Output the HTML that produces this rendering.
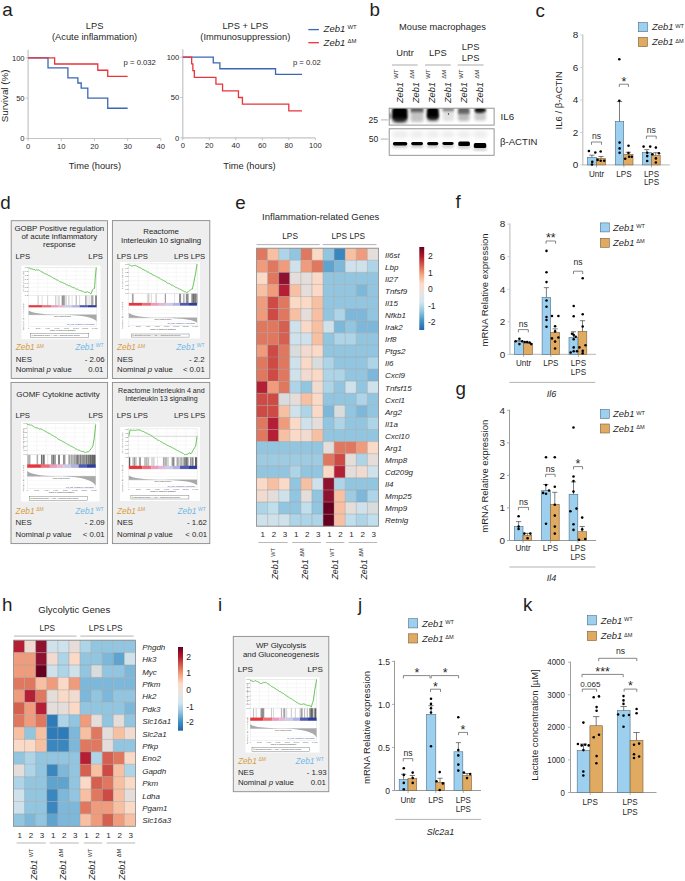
<!DOCTYPE html>
<html><head><meta charset="utf-8"><style>
html,body{margin:0;padding:0;background:#fff;}
svg{display:block;font-family:"Liberation Sans", sans-serif;}

</style></head><body>
<svg width="685" height="881" viewBox="0 0 685 881" font-family='"Liberation Sans", sans-serif' fill="#1f1f1f">
<rect x="0" y="0" width="685" height="881" fill="#ffffff"/>
<text x="2.20" y="16.30" font-size="18.8">a</text>
<line x1="28.10" y1="138.50" x2="28.10" y2="49.80" stroke="#c4c4c4" stroke-width="1.2" />
<line x1="27.50" y1="138.50" x2="160.82" y2="138.50" stroke="#c4c4c4" stroke-width="1.2" />
<line x1="25.60" y1="138.50" x2="28.10" y2="138.50" stroke="#b8b8b8" stroke-width="0.8" />
<text x="24.60" y="141.20" font-size="7.6" text-anchor="end">0</text>
<line x1="25.60" y1="98.15" x2="28.10" y2="98.15" stroke="#b8b8b8" stroke-width="0.8" />
<text x="24.60" y="100.85" font-size="7.6" text-anchor="end">50</text>
<line x1="25.60" y1="57.80" x2="28.10" y2="57.80" stroke="#b8b8b8" stroke-width="0.8" />
<text x="24.60" y="60.50" font-size="7.6" text-anchor="end">100</text>
<line x1="28.10" y1="138.50" x2="28.10" y2="141.00" stroke="#b8b8b8" stroke-width="0.8" />
<text x="28.10" y="148.70" font-size="7.6" text-anchor="middle">0</text>
<line x1="61.28" y1="138.50" x2="61.28" y2="141.00" stroke="#b8b8b8" stroke-width="0.8" />
<text x="61.28" y="148.70" font-size="7.6" text-anchor="middle">10</text>
<line x1="94.46" y1="138.50" x2="94.46" y2="141.00" stroke="#b8b8b8" stroke-width="0.8" />
<text x="94.46" y="148.70" font-size="7.6" text-anchor="middle">20</text>
<line x1="127.64" y1="138.50" x2="127.64" y2="141.00" stroke="#b8b8b8" stroke-width="0.8" />
<text x="127.64" y="148.70" font-size="7.6" text-anchor="middle">30</text>
<line x1="160.82" y1="138.50" x2="160.82" y2="141.00" stroke="#b8b8b8" stroke-width="0.8" />
<text x="160.82" y="148.70" font-size="7.6" text-anchor="middle">40</text>
<text x="94.60" y="29.20" font-size="9.3" text-anchor="middle">LPS</text>
<text x="94.60" y="40.40" font-size="9.3" text-anchor="middle">(Acute inflammation)</text>
<text x="94.96" y="169.20" font-size="9.3" text-anchor="middle">Time (hours)</text>
<path d="M28.10,57.80H48.01V57.80H48.01V67.89H67.92V67.89H67.92V77.97H77.87V77.97H77.87V83.02H81.19V83.02H81.19V88.06H87.82V88.06H87.82V98.15H107.73V98.15H107.73V108.24H127.64V108.24H127.64V108.24" stroke="#3a68b4" stroke-width="1.3" fill="none" />
<path d="M28.10,57.80H54.64V57.80H54.64V64.01H97.78V64.01H97.78V70.23H107.73V70.23H107.73V76.44H127.64V76.44H127.64V76.44" stroke="#e8343c" stroke-width="1.3" fill="none" />
<text x="123.60" y="65.30" font-size="7.7">p = 0.032</text>
<line x1="182.80" y1="137.80" x2="182.80" y2="49.20" stroke="#c4c4c4" stroke-width="1.2" />
<line x1="182.20" y1="137.80" x2="315.30" y2="137.80" stroke="#c4c4c4" stroke-width="1.2" />
<line x1="180.30" y1="137.80" x2="182.80" y2="137.80" stroke="#b8b8b8" stroke-width="0.8" />
<text x="179.30" y="140.50" font-size="7.6" text-anchor="end">0</text>
<line x1="180.30" y1="97.50" x2="182.80" y2="97.50" stroke="#b8b8b8" stroke-width="0.8" />
<text x="179.30" y="100.20" font-size="7.6" text-anchor="end">50</text>
<line x1="180.30" y1="57.20" x2="182.80" y2="57.20" stroke="#b8b8b8" stroke-width="0.8" />
<text x="179.30" y="59.90" font-size="7.6" text-anchor="end">100</text>
<line x1="182.80" y1="137.80" x2="182.80" y2="140.30" stroke="#b8b8b8" stroke-width="0.8" />
<text x="182.80" y="148.00" font-size="7.6" text-anchor="middle">0</text>
<line x1="209.30" y1="137.80" x2="209.30" y2="140.30" stroke="#b8b8b8" stroke-width="0.8" />
<text x="209.30" y="148.00" font-size="7.6" text-anchor="middle">20</text>
<line x1="235.80" y1="137.80" x2="235.80" y2="140.30" stroke="#b8b8b8" stroke-width="0.8" />
<text x="235.80" y="148.00" font-size="7.6" text-anchor="middle">40</text>
<line x1="262.30" y1="137.80" x2="262.30" y2="140.30" stroke="#b8b8b8" stroke-width="0.8" />
<text x="262.30" y="148.00" font-size="7.6" text-anchor="middle">60</text>
<line x1="288.80" y1="137.80" x2="288.80" y2="140.30" stroke="#b8b8b8" stroke-width="0.8" />
<text x="288.80" y="148.00" font-size="7.6" text-anchor="middle">80</text>
<line x1="315.30" y1="137.80" x2="315.30" y2="140.30" stroke="#b8b8b8" stroke-width="0.8" />
<text x="315.30" y="148.00" font-size="7.6" text-anchor="middle">100</text>
<text x="245.30" y="29.20" font-size="9.3" text-anchor="middle">LPS + LPS</text>
<text x="245.30" y="40.40" font-size="9.3" text-anchor="middle">(Immunosuppression)</text>
<text x="249.55" y="169.20" font-size="9.3" text-anchor="middle">Time (hours)</text>
<path d="M182.80,57.20H213.28V57.20H213.28V62.92H219.90V62.92H219.90V68.73H275.55V68.73H275.55V74.45H302.05V74.45H302.05V74.45" stroke="#3a68b4" stroke-width="1.3" fill="none" />
<path d="M182.80,57.20H191.68V57.20H191.68V63.89H192.87V63.89H192.87V70.66H194.33V70.66H194.33V77.35H215.93V77.35H215.93V84.04H222.55V84.04H222.55V90.81H238.45V90.81H238.45V97.50H242.43V97.50H242.43V104.19H288.80V104.19H288.80V110.96H302.05V110.96H302.05V110.96" stroke="#e8343c" stroke-width="1.3" fill="none" />
<text x="292.90" y="65.00" font-size="7.7">p = 0.02</text>
<text x="8.10" y="95.90" font-size="9.8" text-anchor="middle" transform="rotate(-90 8.10 95.90)">Survival (%)</text>
<line x1="308.30" y1="29.60" x2="318.90" y2="29.60" stroke="#3a68b4" stroke-width="1.3" />
<line x1="308.30" y1="42.70" x2="318.90" y2="42.70" stroke="#e8343c" stroke-width="1.3" />
<text x="323.60" y="32.40" font-size="9.5"><tspan font-style="italic">Zeb1</tspan><tspan dx="2.20" dy="-3.60" font-size="6.00">WT</tspan></text>
<text x="323.60" y="46.30" font-size="9.5"><tspan font-style="italic">Zeb1</tspan><tspan dx="2.20" dy="-3.60" font-size="6.00">&#916;M</tspan></text>
<text x="369.50" y="16.30" font-size="18.8">b</text>
<text x="442.50" y="30.20" font-size="9.3" text-anchor="middle">Mouse macrophages</text>
<text x="405.00" y="55.50" font-size="9.3" text-anchor="middle">Untr</text>
<text x="437.90" y="55.50" font-size="9.3" text-anchor="middle">LPS</text>
<text x="470.60" y="49.90" font-size="9.3" text-anchor="middle">LPS</text>
<text x="470.60" y="60.80" font-size="9.3" text-anchor="middle">LPS</text>
<line x1="392.00" y1="65.00" x2="417.70" y2="65.00" stroke="#aaaaaa" stroke-width="1.0" />
<line x1="425.00" y1="65.00" x2="450.80" y2="65.00" stroke="#aaaaaa" stroke-width="1.0" />
<line x1="457.70" y1="65.00" x2="483.50" y2="65.00" stroke="#aaaaaa" stroke-width="1.0" />
<text x="402.70" y="103.00" font-size="9.2" transform="rotate(-90 402.70 103.00)"><tspan font-style="italic">Zeb1</tspan><tspan dx="3.40" dy="-4.40" font-size="6.00">WT</tspan></text>
<text x="418.60" y="103.00" font-size="9.2" transform="rotate(-90 418.60 103.00)"><tspan font-style="italic">Zeb1</tspan><tspan dx="3.40" dy="-4.40" font-size="6.00">&#916;M</tspan></text>
<text x="434.60" y="103.00" font-size="9.2" transform="rotate(-90 434.60 103.00)"><tspan font-style="italic">Zeb1</tspan><tspan dx="3.40" dy="-4.40" font-size="6.00">WT</tspan></text>
<text x="450.80" y="103.00" font-size="9.2" transform="rotate(-90 450.80 103.00)"><tspan font-style="italic">Zeb1</tspan><tspan dx="3.40" dy="-4.40" font-size="6.00">&#916;M</tspan></text>
<text x="467.30" y="103.00" font-size="9.2" transform="rotate(-90 467.30 103.00)"><tspan font-style="italic">Zeb1</tspan><tspan dx="3.40" dy="-4.40" font-size="6.00">WT</tspan></text>
<text x="483.20" y="103.00" font-size="9.2" transform="rotate(-90 483.20 103.00)"><tspan font-style="italic">Zeb1</tspan><tspan dx="3.40" dy="-4.40" font-size="6.00">&#916;M</tspan></text>
<defs><filter id="bl1" x="-50%" y="-50%" width="200%" height="200%"><feGaussianBlur stdDeviation="1.8"/></filter><filter id="bl2" x="-50%" y="-50%" width="200%" height="200%"><feGaussianBlur stdDeviation="1.0"/></filter><filter id="bl3" x="-50%" y="-50%" width="200%" height="200%"><feGaussianBlur stdDeviation="2.2"/></filter><filter id="bl4" x="-50%" y="-50%" width="200%" height="200%"><feGaussianBlur stdDeviation="0.75"/></filter><clipPath id="cb1"><rect x="389.2" y="108.2" width="104.9" height="16.9"/></clipPath><clipPath id="cb2"><rect x="389.2" y="128.8" width="104.9" height="26.5"/></clipPath></defs>
<rect x="389.20" y="108.20" width="104.90" height="16.90" fill="#ffffff" />
<g clip-path="url(#cb1)">
<rect x="392.0" y="107.0" width="15.6" height="13.0" rx="3.5" fill="#000" opacity="1.0" filter="url(#bl2)"/>
<rect x="393.5" y="114.0" width="12.5" height="8.0" rx="4.0" fill="#000" opacity="0.9" filter="url(#bl1)"/>
<rect x="392.0" y="118.0" width="15.5" height="5.0" rx="2.0" fill="#444" opacity="0.5" filter="url(#bl1)"/>
<rect x="388.0" y="113.0" width="2.5" height="6.0" rx="1.0" fill="#000" opacity="0.7" filter="url(#bl2)"/>
<rect x="410.5" y="107.5" width="13.0" height="5.0" rx="1.0" fill="#222" opacity="0.75" filter="url(#bl2)"/>
<rect x="410.5" y="111.0" width="13.0" height="11.0" rx="2.0" fill="#888" opacity="0.5" filter="url(#bl1)"/>
<rect x="426.8" y="107.0" width="12.0" height="12.0" rx="3.5" fill="#000" opacity="1.0" filter="url(#bl2)"/>
<rect x="428.0" y="113.0" width="10.0" height="7.0" rx="3.5" fill="#000" opacity="0.85" filter="url(#bl1)"/>
<rect x="426.8" y="117.0" width="12.0" height="5.0" rx="2.0" fill="#555" opacity="0.4" filter="url(#bl1)"/>
<rect x="442.5" y="107.5" width="11.5" height="4.0" rx="1.0" fill="#333" opacity="0.6" filter="url(#bl2)"/>
<rect x="442.5" y="110.0" width="11.5" height="11.0" rx="2.0" fill="#aaa" opacity="0.35" filter="url(#bl1)"/>
<rect x="458.0" y="107.5" width="11.5" height="6.5" rx="1.5" fill="#222" opacity="0.72" filter="url(#bl2)"/>
<rect x="458.0" y="111.0" width="11.5" height="10.0" rx="2.0" fill="#777" opacity="0.5" filter="url(#bl1)"/>
<rect x="474.5" y="107.5" width="11.5" height="5.0" rx="2.0" fill="#000" opacity="0.9" filter="url(#bl2)"/>
<rect x="476.0" y="109.0" width="7.0" height="4.0" rx="1.5" fill="#000" opacity="0.8" filter="url(#bl2)"/>
<rect x="474.5" y="111.5" width="11.5" height="9.0" rx="2.0" fill="#888" opacity="0.45" filter="url(#bl1)"/>
<circle cx="448.5" cy="114.0" r="0.7" fill="#222"/>
</g>
<rect x="389.20" y="108.20" width="104.90" height="16.90" fill="none" stroke="#8a8a8a" stroke-width="0.9" />
<rect x="389.20" y="128.80" width="104.90" height="26.50" fill="#ffffff" />
<g clip-path="url(#cb2)">
<rect x="392.1" y="131.0" width="16.0" height="7.0" rx="2.0" fill="#000" opacity="0.07" filter="url(#bl3)"/>
<rect x="392.90000000000003" y="142.1" width="14.4" height="3.3000000000000003" rx="1.6" fill="#000" opacity="1.0" filter="url(#bl4)"/>
<rect x="392.6" y="144.6" width="15.0" height="3.0" rx="1.0" fill="#000" opacity="0.25" filter="url(#bl1)"/>
<rect x="410.4" y="131.0" width="13.400000000000034" height="7.0" rx="2.0" fill="#000" opacity="0.07" filter="url(#bl3)"/>
<rect x="411.2" y="141.89999999999998" width="11.800000000000034" height="3.3000000000000003" rx="1.6" fill="#000" opacity="1.0" filter="url(#bl4)"/>
<rect x="410.9" y="144.39999999999998" width="12.400000000000034" height="3.0" rx="1.0" fill="#000" opacity="0.25" filter="url(#bl1)"/>
<rect x="426.4" y="131.0" width="12.700000000000045" height="7.0" rx="2.0" fill="#000" opacity="0.07" filter="url(#bl3)"/>
<rect x="427.2" y="141.89999999999998" width="11.100000000000046" height="3.3000000000000003" rx="1.6" fill="#000" opacity="1.0" filter="url(#bl4)"/>
<rect x="426.9" y="144.39999999999998" width="11.700000000000045" height="3.0" rx="1.0" fill="#000" opacity="0.25" filter="url(#bl1)"/>
<rect x="441.6" y="131.0" width="12.799999999999955" height="7.0" rx="2.0" fill="#000" opacity="0.07" filter="url(#bl3)"/>
<rect x="442.40000000000003" y="142.1" width="11.199999999999955" height="2.9" rx="1.6" fill="#000" opacity="1.0" filter="url(#bl4)"/>
<rect x="442.1" y="144.20000000000002" width="11.799999999999955" height="3.0" rx="1.0" fill="#000" opacity="0.25" filter="url(#bl1)"/>
<rect x="457.5" y="131.0" width="13.199999999999989" height="7.0" rx="2.0" fill="#000" opacity="0.07" filter="url(#bl3)"/>
<rect x="458.3" y="141.5" width="11.599999999999989" height="4.6" rx="1.6" fill="#000" opacity="1.0" filter="url(#bl4)"/>
<rect x="458.0" y="145.3" width="12.199999999999989" height="3.0" rx="1.0" fill="#000" opacity="0.25" filter="url(#bl1)"/>
<rect x="473.0" y="131.0" width="14.100000000000023" height="7.0" rx="2.0" fill="#000" opacity="0.07" filter="url(#bl3)"/>
<rect x="473.8" y="143.1" width="12.500000000000023" height="5.0" rx="1.6" fill="#000" opacity="1.0" filter="url(#bl4)"/>
<rect x="473.5" y="147.3" width="13.100000000000023" height="3.0" rx="1.0" fill="#000" opacity="0.25" filter="url(#bl1)"/>
</g>
<rect x="389.20" y="128.80" width="104.90" height="26.50" fill="none" stroke="#8a8a8a" stroke-width="0.9" />
<text x="500.60" y="119.80" font-size="9.7">IL6</text>
<text x="500.00" y="144.70" font-size="9.6">&#946;-ACTIN</text>
<text x="378.00" y="123.00" font-size="8.6" text-anchor="end">25</text>
<line x1="381.00" y1="119.90" x2="388.20" y2="119.90" stroke="#bbbbbb" stroke-width="1.1" />
<text x="378.30" y="141.90" font-size="8.6" text-anchor="end">50</text>
<line x1="380.60" y1="139.10" x2="388.20" y2="139.10" stroke="#bbbbbb" stroke-width="1.1" />
<text x="535.40" y="16.50" font-size="18.8">c</text>
<line x1="582.80" y1="164.90" x2="582.80" y2="34.46" stroke="#c4c4c4" stroke-width="1.2" />
<line x1="582.20" y1="164.90" x2="669.70" y2="164.90" stroke="#c4c4c4" stroke-width="1.2" />
<line x1="580.30" y1="164.90" x2="582.80" y2="164.90" stroke="#c4c4c4" stroke-width="0.8" />
<text x="578.20" y="168.17" font-size="9.9" text-anchor="end">0</text>
<line x1="580.30" y1="132.44" x2="582.80" y2="132.44" stroke="#c4c4c4" stroke-width="0.8" />
<text x="578.20" y="135.71" font-size="9.9" text-anchor="end">2</text>
<line x1="580.30" y1="99.98" x2="582.80" y2="99.98" stroke="#c4c4c4" stroke-width="0.8" />
<text x="578.20" y="103.25" font-size="9.9" text-anchor="end">4</text>
<line x1="580.30" y1="67.52" x2="582.80" y2="67.52" stroke="#c4c4c4" stroke-width="0.8" />
<text x="578.20" y="70.79" font-size="9.9" text-anchor="end">6</text>
<line x1="580.30" y1="35.06" x2="582.80" y2="35.06" stroke="#c4c4c4" stroke-width="0.8" />
<text x="578.20" y="38.33" font-size="9.9" text-anchor="end">8</text>
<rect x="587.40" y="157.30" width="9.00" height="7.60" fill="#9dcfee" stroke="#4f6f86" stroke-width="0.6" />
<rect x="596.40" y="158.51" width="9.20" height="6.39" fill="#e0aa60" stroke="#7a6040" stroke-width="0.6" />
<rect x="615.30" y="121.50" width="8.40" height="43.40" fill="#9dcfee" stroke="#4f6f86" stroke-width="0.6" />
<rect x="623.70" y="154.30" width="9.30" height="10.60" fill="#e0aa60" stroke="#7a6040" stroke-width="0.6" />
<rect x="642.40" y="152.50" width="8.90" height="12.40" fill="#9dcfee" stroke="#4f6f86" stroke-width="0.6" />
<rect x="651.30" y="155.41" width="8.90" height="9.49" fill="#e0aa60" stroke="#7a6040" stroke-width="0.6" />
<line x1="591.90" y1="157.30" x2="591.90" y2="155.16" stroke="#444" stroke-width="0.7" />
<line x1="589.30" y1="155.16" x2="594.50" y2="155.16" stroke="#444" stroke-width="0.7" />
<line x1="601.00" y1="158.51" x2="601.00" y2="156.46" stroke="#444" stroke-width="0.7" />
<line x1="598.40" y1="156.46" x2="603.60" y2="156.46" stroke="#444" stroke-width="0.7" />
<line x1="619.50" y1="121.50" x2="619.50" y2="101.60" stroke="#444" stroke-width="0.7" />
<line x1="616.90" y1="101.60" x2="622.10" y2="101.60" stroke="#444" stroke-width="0.7" />
<line x1="628.30" y1="154.30" x2="628.30" y2="152.24" stroke="#444" stroke-width="0.7" />
<line x1="625.70" y1="152.24" x2="630.90" y2="152.24" stroke="#444" stroke-width="0.7" />
<line x1="646.80" y1="152.50" x2="646.80" y2="149.64" stroke="#444" stroke-width="0.7" />
<line x1="644.20" y1="149.64" x2="649.40" y2="149.64" stroke="#444" stroke-width="0.7" />
<line x1="655.70" y1="155.41" x2="655.70" y2="152.73" stroke="#444" stroke-width="0.7" />
<line x1="653.10" y1="152.73" x2="658.30" y2="152.73" stroke="#444" stroke-width="0.7" />
<circle cx="588.90" cy="151.00" r="1.28" fill="#000"/>
<circle cx="595.30" cy="152.50" r="1.28" fill="#000"/>
<circle cx="592.30" cy="161.90" r="1.28" fill="#000"/>
<circle cx="592.00" cy="164.50" r="1.28" fill="#000"/>
<circle cx="600.70" cy="151.50" r="1.28" fill="#000"/>
<circle cx="597.60" cy="159.90" r="1.28" fill="#000"/>
<circle cx="600.70" cy="160.70" r="1.28" fill="#000"/>
<circle cx="604.20" cy="160.70" r="1.28" fill="#000"/>
<circle cx="619.60" cy="142.60" r="1.28" fill="#000"/>
<circle cx="619.60" cy="148.40" r="1.28" fill="#000"/>
<circle cx="619.60" cy="152.70" r="1.28" fill="#000"/>
<circle cx="619.30" cy="59.20" r="1.28" fill="#000"/>
<circle cx="619.30" cy="100.70" r="1.28" fill="#000"/>
<circle cx="628.50" cy="145.80" r="1.28" fill="#000"/>
<circle cx="628.50" cy="153.00" r="1.28" fill="#000"/>
<circle cx="625.20" cy="158.80" r="1.28" fill="#000"/>
<circle cx="629.10" cy="156.80" r="1.28" fill="#000"/>
<circle cx="631.80" cy="156.80" r="1.28" fill="#000"/>
<circle cx="643.60" cy="146.60" r="1.28" fill="#000"/>
<circle cx="650.20" cy="146.60" r="1.28" fill="#000"/>
<circle cx="647.20" cy="152.70" r="1.28" fill="#000"/>
<circle cx="647.20" cy="156.10" r="1.28" fill="#000"/>
<circle cx="647.20" cy="161.00" r="1.28" fill="#000"/>
<circle cx="655.90" cy="147.60" r="1.28" fill="#000"/>
<circle cx="652.40" cy="154.20" r="1.28" fill="#000"/>
<circle cx="659.00" cy="153.30" r="1.28" fill="#000"/>
<circle cx="655.90" cy="158.40" r="1.28" fill="#000"/>
<circle cx="655.90" cy="162.50" r="1.28" fill="#000"/>
<path d="M591.50,144.80V142.00H601.50V144.80" stroke="#555" stroke-width="0.7" fill="none" />
<text x="596.50" y="139.20" font-size="8.6" text-anchor="middle">ns</text>
<path d="M619.30,87.00V84.20H628.40V87.00" stroke="#555" stroke-width="0.7" fill="none" />
<text x="623.85" y="85.50" font-size="12.5" text-anchor="middle">*</text>
<path d="M646.40,138.90V136.10H656.20V138.90" stroke="#555" stroke-width="0.7" fill="none" />
<text x="651.30" y="133.20" font-size="8.6" text-anchor="middle">ns</text>
<text x="0" y="0" font-size="9.4" text-anchor="middle" transform="translate(596.50 176.60) scale(0.86 1)">Untr</text>
<line x1="596.50" y1="164.90" x2="596.50" y2="167.30" stroke="#888" stroke-width="0.7" />
<text x="0" y="0" font-size="9.4" text-anchor="middle" transform="translate(623.90 176.60) scale(0.86 1)">LPS</text>
<line x1="623.90" y1="164.90" x2="623.90" y2="167.30" stroke="#888" stroke-width="0.7" />
<text x="0" y="0" font-size="9.4" text-anchor="middle" transform="translate(651.50 176.60) scale(0.86 1)">LPS</text>
<text x="0" y="0" font-size="9.4" text-anchor="middle" transform="translate(651.50 185.30) scale(0.86 1)">LPS</text>
<line x1="651.50" y1="164.90" x2="651.50" y2="167.30" stroke="#888" stroke-width="0.7" />
<text x="562.20" y="100.30" font-size="9.5" text-anchor="middle" transform="rotate(-90 562.20 100.30)">IL6 / &#946;-ACTIN</text>
<rect x="638.30" y="22.50" width="9.20" height="9.20" fill="#9dcfee" stroke="#4f6f86" stroke-width="0.6" />
<rect x="638.30" y="37.40" width="9.20" height="9.20" fill="#e0aa60" stroke="#7a6040" stroke-width="0.6" />
<text x="652.00" y="30.48" font-size="9.4"><tspan font-style="italic">Zeb1</tspan><tspan dx="1.88" dy="-2.82" font-size="5.64">WT</tspan></text>
<text x="652.00" y="45.38" font-size="9.4"><tspan font-style="italic">Zeb1</tspan><tspan dx="1.88" dy="-2.82" font-size="5.64">&#916;M</tspan></text>
<text x="0.30" y="208.70" font-size="18.8">d</text>
<rect x="11.20" y="220.70" width="96.30" height="157.70" fill="#eeeeee" stroke="#8a8a8a" stroke-width="0.9" />
<text x="59.35" y="230.60" font-size="7.95" text-anchor="middle">GOBP Positive regulation</text>
<text x="59.35" y="238.70" font-size="7.95" text-anchor="middle">of acute inflammatory</text>
<text x="59.35" y="247.40" font-size="7.95" text-anchor="middle">response</text>
<text x="15.60" y="259.40" font-size="7.7">LPS</text>
<text x="102.90" y="259.40" font-size="7.7" text-anchor="end">LPS</text>
<rect x="21.50" y="265.50" width="79.00" height="73.70" fill="#ffffff" />
<rect x="28.60" y="267.40" width="68.00" height="27.90" fill="#ffffff" stroke="#cfcfcf" stroke-width="0.4" />
<line x1="38.04" y1="267.40" x2="38.04" y2="295.30" stroke="#ececec" stroke-width="0.35" />
<line x1="47.49" y1="267.40" x2="47.49" y2="295.30" stroke="#ececec" stroke-width="0.35" />
<line x1="56.93" y1="267.40" x2="56.93" y2="295.30" stroke="#ececec" stroke-width="0.35" />
<line x1="66.38" y1="267.40" x2="66.38" y2="295.30" stroke="#ececec" stroke-width="0.35" />
<line x1="75.82" y1="267.40" x2="75.82" y2="295.30" stroke="#ececec" stroke-width="0.35" />
<line x1="85.27" y1="267.40" x2="85.27" y2="295.30" stroke="#ececec" stroke-width="0.35" />
<line x1="94.71" y1="267.40" x2="94.71" y2="295.30" stroke="#ececec" stroke-width="0.35" />
<line x1="28.60" y1="271.39" x2="96.60" y2="271.39" stroke="#ececec" stroke-width="0.35" />
<line x1="28.60" y1="275.37" x2="96.60" y2="275.37" stroke="#ececec" stroke-width="0.35" />
<line x1="28.60" y1="279.36" x2="96.60" y2="279.36" stroke="#ececec" stroke-width="0.35" />
<line x1="28.60" y1="283.34" x2="96.60" y2="283.34" stroke="#ececec" stroke-width="0.35" />
<line x1="28.60" y1="287.33" x2="96.60" y2="287.33" stroke="#ececec" stroke-width="0.35" />
<line x1="28.60" y1="291.31" x2="96.60" y2="291.31" stroke="#ececec" stroke-width="0.35" />
<line x1="27.40" y1="267.40" x2="28.60" y2="267.40" stroke="#999" stroke-width="0.3" />
<text x="27.80" y="268.10" font-size="2.0" text-anchor="end" fill="#444">-0.0</text>
<line x1="27.40" y1="271.39" x2="28.60" y2="271.39" stroke="#999" stroke-width="0.3" />
<text x="27.80" y="272.09" font-size="2.0" text-anchor="end" fill="#444">-0.1</text>
<line x1="27.40" y1="275.37" x2="28.60" y2="275.37" stroke="#999" stroke-width="0.3" />
<text x="27.80" y="276.07" font-size="2.0" text-anchor="end" fill="#444">-0.2</text>
<line x1="27.40" y1="279.36" x2="28.60" y2="279.36" stroke="#999" stroke-width="0.3" />
<text x="27.80" y="280.06" font-size="2.0" text-anchor="end" fill="#444">-0.3</text>
<line x1="27.40" y1="283.34" x2="28.60" y2="283.34" stroke="#999" stroke-width="0.3" />
<text x="27.80" y="284.04" font-size="2.0" text-anchor="end" fill="#444">-0.4</text>
<line x1="27.40" y1="287.33" x2="28.60" y2="287.33" stroke="#999" stroke-width="0.3" />
<text x="27.80" y="288.03" font-size="2.0" text-anchor="end" fill="#444">-0.5</text>
<line x1="27.40" y1="291.31" x2="28.60" y2="291.31" stroke="#999" stroke-width="0.3" />
<text x="27.80" y="292.01" font-size="2.0" text-anchor="end" fill="#444">-0.6</text>
<line x1="27.40" y1="295.30" x2="28.60" y2="295.30" stroke="#999" stroke-width="0.3" />
<text x="27.80" y="296.00" font-size="2.0" text-anchor="end" fill="#444">-0.7</text>
<text x="24.10" y="281.35" font-size="2.1" text-anchor="middle" fill="#333" transform="rotate(-90 24.10 281.35)">Enrichment score (ES)</text>
<polyline points="28.60,267.96 29.38,268.17 30.15,268.48 30.93,268.96 31.71,268.89 32.49,269.16 33.26,269.45 34.04,269.42 35.40,270.20 36.76,269.72 37.78,270.11 38.80,269.92 39.58,270.49 40.37,270.77 41.15,271.69 41.94,272.04 42.72,272.03 43.51,273.09 44.29,273.51 45.08,273.73 45.86,274.13 46.65,274.25 47.43,274.59 48.22,275.36 49.00,275.48 49.76,275.95 50.51,276.37 51.27,276.62 52.02,277.30 52.78,277.67 53.53,278.32 54.29,278.50 55.04,278.96 55.80,279.26 56.56,279.75 57.31,280.00 58.07,280.27 58.82,281.14 59.58,281.53 60.33,281.81 61.09,282.11 61.84,282.23 62.60,282.56 63.40,282.96 64.20,283.18 65.00,284.01 65.80,284.12 66.60,284.78 67.40,284.84 68.20,285.58 69.00,285.87 69.80,285.66 70.60,286.16 71.40,286.99 72.20,287.06 73.00,287.76 73.80,287.73 74.60,287.87 75.40,288.61 76.20,289.07 77.00,289.06 77.81,289.27 78.61,289.76 79.41,290.51 80.22,290.70 81.02,290.61 81.83,291.02 82.63,291.25 83.43,291.56 84.24,292.38 85.04,292.29 85.95,292.36 86.85,292.10 87.76,291.74 88.61,292.60 89.46,292.68 90.31,293.51 91.16,293.65 92.52,289.67 93.54,288.83 94.56,288.32 95.24,278.56 96.26,267.40" fill="none" stroke="#58c04a" stroke-width="0.9"/>
<rect x="28.60" y="295.30" width="68.00" height="10.40" fill="#ffffff" stroke="#cfcfcf" stroke-width="0.3" />
<line x1="38.12" y1="295.50" x2="38.12" y2="305.70" stroke="#999" stroke-width="0.55" />
<line x1="42.20" y1="295.50" x2="42.20" y2="305.70" stroke="#ccc" stroke-width="0.55" />
<line x1="47.64" y1="295.50" x2="47.64" y2="305.70" stroke="#aaa" stroke-width="0.55" />
<line x1="55.80" y1="295.50" x2="55.80" y2="305.70" stroke="#888" stroke-width="0.55" />
<line x1="58.18" y1="295.50" x2="58.18" y2="305.70" stroke="#aaa" stroke-width="0.55" />
<line x1="59.38" y1="295.50" x2="59.38" y2="305.70" stroke="#bbb" stroke-width="0.55" />
<line x1="62.10" y1="295.50" x2="62.10" y2="305.70" stroke="#555" stroke-width="0.55" />
<line x1="62.67" y1="295.50" x2="62.67" y2="305.70" stroke="#555" stroke-width="0.55" />
<line x1="63.80" y1="295.50" x2="63.80" y2="305.70" stroke="#666" stroke-width="0.55" />
<line x1="64.07" y1="295.50" x2="64.07" y2="305.70" stroke="#333" stroke-width="0.55" />
<line x1="66.00" y1="295.50" x2="66.00" y2="305.70" stroke="#888" stroke-width="0.55" />
<line x1="68.62" y1="295.50" x2="68.62" y2="305.70" stroke="#bbb" stroke-width="0.55" />
<line x1="69.17" y1="295.50" x2="69.17" y2="305.70" stroke="#ccc" stroke-width="0.55" />
<line x1="72.12" y1="295.50" x2="72.12" y2="305.70" stroke="#ccc" stroke-width="0.55" />
<line x1="76.20" y1="295.50" x2="76.20" y2="305.70" stroke="#666" stroke-width="0.55" />
<line x1="79.60" y1="295.50" x2="79.60" y2="305.70" stroke="#bbb" stroke-width="0.55" />
<line x1="85.54" y1="295.50" x2="85.54" y2="305.70" stroke="#666" stroke-width="0.55" />
<line x1="86.76" y1="295.50" x2="86.76" y2="305.70" stroke="#888" stroke-width="0.55" />
<line x1="89.12" y1="295.50" x2="89.12" y2="305.70" stroke="#b5b5b5" stroke-width="0.55" />
<line x1="91.29" y1="295.50" x2="91.29" y2="305.70" stroke="#888" stroke-width="0.55" />
<line x1="91.85" y1="295.50" x2="91.85" y2="305.70" stroke="#888" stroke-width="0.55" />
<line x1="92.56" y1="295.50" x2="92.56" y2="305.70" stroke="#888" stroke-width="0.55" />
<line x1="93.04" y1="295.50" x2="93.04" y2="305.70" stroke="#888" stroke-width="0.55" />
<line x1="95.71" y1="295.50" x2="95.71" y2="305.70" stroke="#111" stroke-width="0.55" />
<line x1="96.36" y1="295.50" x2="96.36" y2="305.70" stroke="#333" stroke-width="0.55" />
<rect x="28.60" y="305.20" width="13.65" height="2.50" fill="#e8353d" />
<rect x="42.20" y="305.20" width="8.89" height="2.50" fill="#ee6c75" />
<rect x="51.04" y="305.20" width="7.53" height="2.50" fill="#eb9bc0" />
<rect x="58.52" y="305.20" width="6.17" height="2.50" fill="#e8b6d2" />
<rect x="64.64" y="305.20" width="7.53" height="2.50" fill="#cdcbeb" />
<rect x="72.12" y="305.20" width="7.53" height="2.50" fill="#b2b2e0" />
<rect x="79.60" y="305.20" width="8.21" height="2.50" fill="#4f5ab2" />
<rect x="87.76" y="305.20" width="8.89" height="2.50" fill="#2e3c9e" />
<text x="29.60" y="309.70" font-size="2.0" fill="#e8353d">'na_pos' (positively correlated)</text>
<rect x="28.60" y="307.50" width="68.00" height="19.10" fill="#ffffff" stroke="#cfcfcf" stroke-width="0.3" />
<line x1="28.60" y1="311.32" x2="96.60" y2="311.32" stroke="#efefef" stroke-width="0.3" />
<line x1="28.60" y1="315.14" x2="96.60" y2="315.14" stroke="#efefef" stroke-width="0.3" />
<line x1="28.60" y1="318.96" x2="96.60" y2="318.96" stroke="#efefef" stroke-width="0.3" />
<line x1="28.60" y1="322.78" x2="96.60" y2="322.78" stroke="#efefef" stroke-width="0.3" />
<path d="M28.60,314.70 L28.60,310.52 C31.32,312.82 40.84,314.20 57.16,314.70 L63.96,314.70 C83.00,315.40 93.88,317.32 96.60,321.25 L96.60,314.70 Z" stroke="none" stroke-width="0" fill="#a9a9a9" />
<line x1="28.60" y1="314.70" x2="96.60" y2="314.70" stroke="#9a9a9a" stroke-width="0.3" />
<text x="62.60" y="317.30" font-size="2.0" text-anchor="middle" fill="#333">Zero cross at 8366</text>
<text x="94.60" y="325.40" font-size="2.0" text-anchor="end" fill="#2e3c9e">'na_neg' (negatively correlated)</text>
<text x="24.10" y="317.05" font-size="2.0" text-anchor="middle" fill="#333" transform="rotate(-90 24.10 317.05)">Ranked list metric (Preranked)</text>
<text x="28.60" y="328.80" font-size="1.9" text-anchor="middle" fill="#444">0</text>
<text x="38.04" y="328.80" font-size="1.9" text-anchor="middle" fill="#444">2,000</text>
<text x="47.49" y="328.80" font-size="1.9" text-anchor="middle" fill="#444">4,000</text>
<text x="56.93" y="328.80" font-size="1.9" text-anchor="middle" fill="#444">6,000</text>
<text x="66.38" y="328.80" font-size="1.9" text-anchor="middle" fill="#444">8,000</text>
<text x="75.82" y="328.80" font-size="1.9" text-anchor="middle" fill="#444">10,000</text>
<text x="85.27" y="328.80" font-size="1.9" text-anchor="middle" fill="#444">12,000</text>
<text x="94.71" y="328.80" font-size="1.9" text-anchor="middle" fill="#444">14,000</text>
<text x="62.60" y="331.20" font-size="2.3" text-anchor="middle" fill="#333">Rank in Ordered Dataset</text>
<rect x="30.50" y="333.60" width="58.30" height="4.10" fill="#ffffff" stroke="#666" stroke-width="0.4" />
<line x1="31.50" y1="335.65" x2="33.50" y2="335.65" stroke="#5cbf4c" stroke-width="0.6" />
<text x="34.00" y="336.35" font-size="2.0" fill="#333">Enrichment profile  — Hits    — Ranking metric scores</text>
<text x="15.80" y="350.00" font-size="8.3" fill="#d69a3e"><tspan font-style="italic">Zeb1</tspan><tspan dx="1.66" dy="-2.49" font-size="4.98">&#916;M</tspan></text>
<text x="103.50" y="350.00" font-size="8.3" text-anchor="end" fill="#6fb8e6"><tspan font-style="italic">Zeb1</tspan><tspan dx="1.6" dy="-2.6" font-size="5.0">WT</tspan></text>
<text x="15.80" y="362.40" font-size="7.8">NES</text>
<text x="104.60" y="362.40" font-size="7.8" text-anchor="end">- 2.06</text>
<text x="15.80" y="372.20" font-size="7.8">Nominal <tspan font-style="italic">p</tspan> value</text>
<text x="103.40" y="372.20" font-size="7.8" text-anchor="end">0.01</text>
<rect x="112.40" y="220.60" width="97.40" height="157.90" fill="#eeeeee" stroke="#8a8a8a" stroke-width="0.9" />
<text x="161.10" y="233.90" font-size="7.85" text-anchor="middle">Reactome</text>
<text x="161.10" y="242.70" font-size="7.85" text-anchor="middle">Interleukin 10 signaling</text>
<text x="116.80" y="259.40" font-size="7.7">LPS LPS</text>
<text x="205.20" y="259.40" font-size="7.7" text-anchor="end">LPS LPS</text>
<rect x="120.00" y="262.00" width="80.00" height="76.50" fill="#ffffff" />
<rect x="128.80" y="263.90" width="68.30" height="29.70" fill="#ffffff" stroke="#cfcfcf" stroke-width="0.4" />
<line x1="138.29" y1="263.90" x2="138.29" y2="293.60" stroke="#ececec" stroke-width="0.35" />
<line x1="147.77" y1="263.90" x2="147.77" y2="293.60" stroke="#ececec" stroke-width="0.35" />
<line x1="157.26" y1="263.90" x2="157.26" y2="293.60" stroke="#ececec" stroke-width="0.35" />
<line x1="166.74" y1="263.90" x2="166.74" y2="293.60" stroke="#ececec" stroke-width="0.35" />
<line x1="176.23" y1="263.90" x2="176.23" y2="293.60" stroke="#ececec" stroke-width="0.35" />
<line x1="185.72" y1="263.90" x2="185.72" y2="293.60" stroke="#ececec" stroke-width="0.35" />
<line x1="195.20" y1="263.90" x2="195.20" y2="293.60" stroke="#ececec" stroke-width="0.35" />
<line x1="128.80" y1="268.14" x2="197.10" y2="268.14" stroke="#ececec" stroke-width="0.35" />
<line x1="128.80" y1="272.39" x2="197.10" y2="272.39" stroke="#ececec" stroke-width="0.35" />
<line x1="128.80" y1="276.63" x2="197.10" y2="276.63" stroke="#ececec" stroke-width="0.35" />
<line x1="128.80" y1="280.87" x2="197.10" y2="280.87" stroke="#ececec" stroke-width="0.35" />
<line x1="128.80" y1="285.11" x2="197.10" y2="285.11" stroke="#ececec" stroke-width="0.35" />
<line x1="128.80" y1="289.36" x2="197.10" y2="289.36" stroke="#ececec" stroke-width="0.35" />
<line x1="127.60" y1="263.90" x2="128.80" y2="263.90" stroke="#999" stroke-width="0.3" />
<text x="128.00" y="264.60" font-size="2.0" text-anchor="end" fill="#444">-0.0</text>
<line x1="127.60" y1="268.14" x2="128.80" y2="268.14" stroke="#999" stroke-width="0.3" />
<text x="128.00" y="268.84" font-size="2.0" text-anchor="end" fill="#444">-0.1</text>
<line x1="127.60" y1="272.39" x2="128.80" y2="272.39" stroke="#999" stroke-width="0.3" />
<text x="128.00" y="273.09" font-size="2.0" text-anchor="end" fill="#444">-0.2</text>
<line x1="127.60" y1="276.63" x2="128.80" y2="276.63" stroke="#999" stroke-width="0.3" />
<text x="128.00" y="277.33" font-size="2.0" text-anchor="end" fill="#444">-0.3</text>
<line x1="127.60" y1="280.87" x2="128.80" y2="280.87" stroke="#999" stroke-width="0.3" />
<text x="128.00" y="281.57" font-size="2.0" text-anchor="end" fill="#444">-0.4</text>
<line x1="127.60" y1="285.11" x2="128.80" y2="285.11" stroke="#999" stroke-width="0.3" />
<text x="128.00" y="285.81" font-size="2.0" text-anchor="end" fill="#444">-0.5</text>
<line x1="127.60" y1="289.36" x2="128.80" y2="289.36" stroke="#999" stroke-width="0.3" />
<text x="128.00" y="290.06" font-size="2.0" text-anchor="end" fill="#444">-0.6</text>
<line x1="127.60" y1="293.60" x2="128.80" y2="293.60" stroke="#999" stroke-width="0.3" />
<text x="128.00" y="294.30" font-size="2.0" text-anchor="end" fill="#444">-0.7</text>
<text x="122.60" y="278.75" font-size="2.1" text-anchor="middle" fill="#333" transform="rotate(-90 122.60 278.75)">Enrichment score (ES)</text>
<polyline points="128.80,264.49 129.65,264.92 130.51,265.50 131.36,265.95 132.22,266.02 133.24,265.63 134.26,265.59 135.63,265.22 136.39,266.02 137.15,266.35 137.91,266.69 138.67,267.08 139.42,267.56 140.18,267.61 140.94,268.23 141.70,268.44 142.46,269.39 143.22,269.20 143.98,270.15 144.74,270.03 145.50,270.88 146.25,271.04 147.01,271.50 147.77,272.23 148.53,272.05 149.29,272.50 150.05,273.52 150.81,273.64 151.57,273.76 152.33,274.81 153.08,275.19 153.84,275.01 154.60,275.64 155.36,275.85 156.12,276.39 156.88,277.02 157.64,277.11 158.40,277.90 159.16,277.85 159.91,278.35 160.67,279.22 161.43,279.34 162.19,279.76 162.95,280.30 163.75,280.66 164.56,281.03 165.36,281.21 166.16,282.14 166.97,282.75 167.77,283.20 168.57,283.41 169.38,283.63 170.18,284.07 170.99,284.74 171.79,285.16 172.59,285.20 173.40,285.72 174.20,286.25 175.00,286.79 175.81,287.44 176.61,287.66 177.42,287.73 178.22,288.70 179.03,288.83 179.84,289.29 180.65,289.49 181.45,290.04 182.26,290.42 183.07,291.09 183.87,291.02 184.68,291.75 185.49,291.89 186.51,292.40 187.54,292.08 188.45,291.46 189.36,290.72 190.27,290.13 191.29,289.27 192.32,289.12 193.69,283.00 194.71,277.85 195.73,272.81 197.10,263.90" fill="none" stroke="#58c04a" stroke-width="0.9"/>
<rect x="128.80" y="293.60" width="68.30" height="9.80" fill="#ffffff" stroke="#cfcfcf" stroke-width="0.3" />
<line x1="132.43" y1="293.80" x2="132.43" y2="303.40" stroke="#666" stroke-width="0.55" />
<line x1="132.80" y1="293.80" x2="132.80" y2="303.40" stroke="#888" stroke-width="0.55" />
<line x1="133.34" y1="293.80" x2="133.34" y2="303.40" stroke="#999" stroke-width="0.55" />
<line x1="147.41" y1="293.80" x2="147.41" y2="303.40" stroke="#bbb" stroke-width="0.55" />
<line x1="148.49" y1="293.80" x2="148.49" y2="303.40" stroke="#aaa" stroke-width="0.55" />
<line x1="149.19" y1="293.80" x2="149.19" y2="303.40" stroke="#ccc" stroke-width="0.55" />
<line x1="151.34" y1="293.80" x2="151.34" y2="303.40" stroke="#bbb" stroke-width="0.55" />
<line x1="156.12" y1="293.80" x2="156.12" y2="303.40" stroke="#888" stroke-width="0.55" />
<line x1="165.25" y1="293.80" x2="165.25" y2="303.40" stroke="#777" stroke-width="0.55" />
<line x1="165.44" y1="293.80" x2="165.44" y2="303.40" stroke="#777" stroke-width="0.55" />
<line x1="174.56" y1="293.80" x2="174.56" y2="303.40" stroke="#ccc" stroke-width="0.55" />
<line x1="179.75" y1="293.80" x2="179.75" y2="303.40" stroke="#444" stroke-width="0.55" />
<line x1="179.85" y1="293.80" x2="179.85" y2="303.40" stroke="#555" stroke-width="0.55" />
<line x1="180.62" y1="293.80" x2="180.62" y2="303.40" stroke="#555" stroke-width="0.55" />
<line x1="183.44" y1="293.80" x2="183.44" y2="303.40" stroke="#777" stroke-width="0.55" />
<line x1="184.81" y1="293.80" x2="184.81" y2="303.40" stroke="#888" stroke-width="0.55" />
<line x1="186.54" y1="293.80" x2="186.54" y2="303.40" stroke="#666" stroke-width="0.55" />
<line x1="186.94" y1="293.80" x2="186.94" y2="303.40" stroke="#555" stroke-width="0.55" />
<line x1="187.36" y1="293.80" x2="187.36" y2="303.40" stroke="#666" stroke-width="0.55" />
<line x1="188.13" y1="293.80" x2="188.13" y2="303.40" stroke="#444" stroke-width="0.55" />
<line x1="191.89" y1="293.80" x2="191.89" y2="303.40" stroke="#333" stroke-width="0.55" />
<line x1="192.36" y1="293.80" x2="192.36" y2="303.40" stroke="#666" stroke-width="0.55" />
<line x1="193.09" y1="293.80" x2="193.09" y2="303.40" stroke="#444" stroke-width="0.55" />
<line x1="193.65" y1="293.80" x2="193.65" y2="303.40" stroke="#555" stroke-width="0.55" />
<line x1="193.89" y1="293.80" x2="193.89" y2="303.40" stroke="#333" stroke-width="0.55" />
<line x1="194.73" y1="293.80" x2="194.73" y2="303.40" stroke="#444" stroke-width="0.55" />
<line x1="195.21" y1="293.80" x2="195.21" y2="303.40" stroke="#555" stroke-width="0.55" />
<line x1="195.70" y1="293.80" x2="195.70" y2="303.40" stroke="#444" stroke-width="0.55" />
<line x1="196.15" y1="293.80" x2="196.15" y2="303.40" stroke="#666" stroke-width="0.55" />
<line x1="197.04" y1="293.80" x2="197.04" y2="303.40" stroke="#555" stroke-width="0.55" />
<rect x="128.80" y="302.90" width="13.71" height="3.10" fill="#e8353d" />
<rect x="142.46" y="302.90" width="8.93" height="3.10" fill="#ee6c75" />
<rect x="151.34" y="302.90" width="7.56" height="3.10" fill="#eb9bc0" />
<rect x="158.85" y="302.90" width="6.20" height="3.10" fill="#e8b6d2" />
<rect x="165.00" y="302.90" width="7.56" height="3.10" fill="#cdcbeb" />
<rect x="172.51" y="302.90" width="7.56" height="3.10" fill="#b2b2e0" />
<rect x="180.03" y="302.90" width="8.25" height="3.10" fill="#4f5ab2" />
<rect x="188.22" y="302.90" width="8.93" height="3.10" fill="#2e3c9e" />
<text x="129.80" y="308.00" font-size="2.0" fill="#e8353d">'na_pos' (positively correlated)</text>
<rect x="128.80" y="305.80" width="68.30" height="19.40" fill="#ffffff" stroke="#cfcfcf" stroke-width="0.3" />
<line x1="128.80" y1="309.68" x2="197.10" y2="309.68" stroke="#efefef" stroke-width="0.3" />
<line x1="128.80" y1="313.56" x2="197.10" y2="313.56" stroke="#efefef" stroke-width="0.3" />
<line x1="128.80" y1="317.44" x2="197.10" y2="317.44" stroke="#efefef" stroke-width="0.3" />
<line x1="128.80" y1="321.32" x2="197.10" y2="321.32" stroke="#efefef" stroke-width="0.3" />
<path d="M128.80,317.83 L128.80,312.66 C131.53,315.50 141.09,317.33 157.49,317.83 L164.32,317.83 C183.44,318.53 194.37,319.89 197.10,322.99 L197.10,317.83 Z" stroke="none" stroke-width="0" fill="#a9a9a9" />
<line x1="128.80" y1="317.83" x2="197.10" y2="317.83" stroke="#9a9a9a" stroke-width="0.3" />
<text x="162.95" y="320.43" font-size="2.0" text-anchor="middle" fill="#333">Zero cross at 8366</text>
<text x="195.10" y="324.00" font-size="2.0" text-anchor="end" fill="#2e3c9e">'na_neg' (negatively correlated)</text>
<text x="122.60" y="315.50" font-size="2.0" text-anchor="middle" fill="#333" transform="rotate(-90 122.60 315.50)">Ranked list metric (Preranked)</text>
<text x="128.80" y="327.40" font-size="1.9" text-anchor="middle" fill="#444">0</text>
<text x="138.29" y="327.40" font-size="1.9" text-anchor="middle" fill="#444">2,000</text>
<text x="147.77" y="327.40" font-size="1.9" text-anchor="middle" fill="#444">4,000</text>
<text x="157.26" y="327.40" font-size="1.9" text-anchor="middle" fill="#444">6,000</text>
<text x="166.74" y="327.40" font-size="1.9" text-anchor="middle" fill="#444">8,000</text>
<text x="176.23" y="327.40" font-size="1.9" text-anchor="middle" fill="#444">10,000</text>
<text x="185.72" y="327.40" font-size="1.9" text-anchor="middle" fill="#444">12,000</text>
<text x="195.20" y="327.40" font-size="1.9" text-anchor="middle" fill="#444">14,000</text>
<text x="162.95" y="329.80" font-size="2.3" text-anchor="middle" fill="#333">Rank in Ordered Dataset</text>
<rect x="131.20" y="334.00" width="57.90" height="3.10" fill="#ffffff" stroke="#666" stroke-width="0.4" />
<line x1="132.20" y1="335.55" x2="134.20" y2="335.55" stroke="#5cbf4c" stroke-width="0.6" />
<text x="134.70" y="336.25" font-size="2.0" fill="#333">Enrichment profile  — Hits    — Ranking metric scores</text>
<text x="117.00" y="350.00" font-size="8.3" fill="#d69a3e"><tspan font-style="italic">Zeb1</tspan><tspan dx="1.66" dy="-2.49" font-size="4.98">&#916;M</tspan></text>
<text x="204.60" y="350.00" font-size="8.3" text-anchor="end" fill="#6fb8e6"><tspan font-style="italic">Zeb1</tspan><tspan dx="1.6" dy="-2.6" font-size="5.0">WT</tspan></text>
<text x="117.00" y="362.40" font-size="7.8">NES</text>
<text x="204.50" y="362.40" font-size="7.8" text-anchor="end">- 2.2</text>
<text x="117.00" y="372.20" font-size="7.8">Nominal <tspan font-style="italic">p</tspan> value</text>
<text x="204.80" y="372.20" font-size="7.8" text-anchor="end">&lt; 0.01</text>
<rect x="11.00" y="382.40" width="96.60" height="161.20" fill="#eeeeee" stroke="#8a8a8a" stroke-width="0.9" />
<text x="58.00" y="396.90" font-size="7.95" text-anchor="middle">GOMF Cytokine activity</text>
<text x="15.40" y="417.90" font-size="7.7">LPS</text>
<text x="103.00" y="417.90" font-size="7.7" text-anchor="end">LPS</text>
<rect x="21.00" y="421.50" width="78.50" height="80.00" fill="#ffffff" />
<rect x="27.20" y="423.60" width="68.50" height="31.10" fill="#ffffff" stroke="#cfcfcf" stroke-width="0.4" />
<line x1="36.71" y1="423.60" x2="36.71" y2="454.70" stroke="#ececec" stroke-width="0.35" />
<line x1="46.23" y1="423.60" x2="46.23" y2="454.70" stroke="#ececec" stroke-width="0.35" />
<line x1="55.74" y1="423.60" x2="55.74" y2="454.70" stroke="#ececec" stroke-width="0.35" />
<line x1="65.26" y1="423.60" x2="65.26" y2="454.70" stroke="#ececec" stroke-width="0.35" />
<line x1="74.77" y1="423.60" x2="74.77" y2="454.70" stroke="#ececec" stroke-width="0.35" />
<line x1="84.28" y1="423.60" x2="84.28" y2="454.70" stroke="#ececec" stroke-width="0.35" />
<line x1="93.80" y1="423.60" x2="93.80" y2="454.70" stroke="#ececec" stroke-width="0.35" />
<line x1="27.20" y1="428.04" x2="95.70" y2="428.04" stroke="#ececec" stroke-width="0.35" />
<line x1="27.20" y1="432.49" x2="95.70" y2="432.49" stroke="#ececec" stroke-width="0.35" />
<line x1="27.20" y1="436.93" x2="95.70" y2="436.93" stroke="#ececec" stroke-width="0.35" />
<line x1="27.20" y1="441.37" x2="95.70" y2="441.37" stroke="#ececec" stroke-width="0.35" />
<line x1="27.20" y1="445.81" x2="95.70" y2="445.81" stroke="#ececec" stroke-width="0.35" />
<line x1="27.20" y1="450.26" x2="95.70" y2="450.26" stroke="#ececec" stroke-width="0.35" />
<line x1="26.00" y1="423.60" x2="27.20" y2="423.60" stroke="#999" stroke-width="0.3" />
<text x="26.40" y="424.30" font-size="2.0" text-anchor="end" fill="#444">-0.0</text>
<line x1="26.00" y1="428.04" x2="27.20" y2="428.04" stroke="#999" stroke-width="0.3" />
<text x="26.40" y="428.74" font-size="2.0" text-anchor="end" fill="#444">-0.1</text>
<line x1="26.00" y1="432.49" x2="27.20" y2="432.49" stroke="#999" stroke-width="0.3" />
<text x="26.40" y="433.19" font-size="2.0" text-anchor="end" fill="#444">-0.2</text>
<line x1="26.00" y1="436.93" x2="27.20" y2="436.93" stroke="#999" stroke-width="0.3" />
<text x="26.40" y="437.63" font-size="2.0" text-anchor="end" fill="#444">-0.3</text>
<line x1="26.00" y1="441.37" x2="27.20" y2="441.37" stroke="#999" stroke-width="0.3" />
<text x="26.40" y="442.07" font-size="2.0" text-anchor="end" fill="#444">-0.4</text>
<line x1="26.00" y1="445.81" x2="27.20" y2="445.81" stroke="#999" stroke-width="0.3" />
<text x="26.40" y="446.51" font-size="2.0" text-anchor="end" fill="#444">-0.5</text>
<line x1="26.00" y1="450.26" x2="27.20" y2="450.26" stroke="#999" stroke-width="0.3" />
<text x="26.40" y="450.96" font-size="2.0" text-anchor="end" fill="#444">-0.6</text>
<line x1="26.00" y1="454.70" x2="27.20" y2="454.70" stroke="#999" stroke-width="0.3" />
<text x="26.40" y="455.40" font-size="2.0" text-anchor="end" fill="#444">-0.7</text>
<text x="23.60" y="439.15" font-size="2.1" text-anchor="middle" fill="#333" transform="rotate(-90 23.60 439.15)">Enrichment score (ES)</text>
<polyline points="27.20,424.53 28.06,424.43 28.91,424.83 29.77,424.90 30.62,425.10 31.42,425.08 32.22,425.58 33.02,425.98 33.82,426.50 34.62,427.35 35.42,427.37 36.20,427.89 36.99,427.87 37.77,428.16 38.55,428.48 39.33,429.01 40.12,429.06 40.90,428.84 41.76,429.34 42.61,429.56 43.47,430.41 44.33,430.67 45.12,431.15 45.91,431.64 46.70,432.06 47.49,432.69 48.28,433.05 49.07,433.13 49.86,434.05 50.65,434.26 51.44,434.94 52.23,435.27 53.02,435.65 53.81,436.08 54.60,436.61 55.39,437.00 56.18,437.33 56.97,438.34 57.76,438.80 58.55,439.42 59.34,439.68 60.13,440.05 60.92,440.68 61.71,440.70 62.50,441.58 63.29,441.88 64.08,442.16 64.88,442.66 65.67,443.33 66.46,443.56 67.25,444.14 68.04,444.68 68.83,444.96 69.62,445.19 70.41,445.89 71.20,446.13 71.99,446.56 72.78,446.96 73.57,447.52 74.36,447.73 75.15,448.59 75.93,449.17 76.72,449.11 77.50,449.71 78.28,450.22 79.06,449.92 79.85,450.35 80.63,451.20 81.43,451.43 82.23,451.49 83.03,451.34 83.83,451.73 84.63,452.28 85.42,452.50 86.28,452.28 87.14,451.68 87.99,452.01 88.85,451.50 89.88,450.51 90.91,448.83 91.93,447.59 92.96,445.45 94.33,437.60 95.70,424.53" fill="none" stroke="#58c04a" stroke-width="0.9"/>
<rect x="27.20" y="454.70" width="68.50" height="10.20" fill="#ffffff" stroke="#cfcfcf" stroke-width="0.3" />
<line x1="27.78" y1="454.90" x2="27.78" y2="464.90" stroke="#888" stroke-width="0.55" />
<line x1="28.73" y1="454.90" x2="28.73" y2="464.90" stroke="#777" stroke-width="0.55" />
<line x1="29.40" y1="454.90" x2="29.40" y2="464.90" stroke="#777" stroke-width="0.55" />
<line x1="30.10" y1="454.90" x2="30.10" y2="464.90" stroke="#999" stroke-width="0.55" />
<line x1="36.96" y1="454.90" x2="36.96" y2="464.90" stroke="#888" stroke-width="0.55" />
<line x1="37.63" y1="454.90" x2="37.63" y2="464.90" stroke="#777" stroke-width="0.55" />
<line x1="41.46" y1="454.90" x2="41.46" y2="464.90" stroke="#444" stroke-width="0.55" />
<line x1="41.69" y1="454.90" x2="41.69" y2="464.90" stroke="#333" stroke-width="0.55" />
<line x1="42.87" y1="454.90" x2="42.87" y2="464.90" stroke="#555" stroke-width="0.55" />
<line x1="43.38" y1="454.90" x2="43.38" y2="464.90" stroke="#333" stroke-width="0.55" />
<line x1="43.78" y1="454.90" x2="43.78" y2="464.90" stroke="#555" stroke-width="0.55" />
<line x1="44.46" y1="454.90" x2="44.46" y2="464.90" stroke="#555" stroke-width="0.55" />
<line x1="47.75" y1="454.90" x2="47.75" y2="464.90" stroke="#ccc" stroke-width="0.55" />
<line x1="51.62" y1="454.90" x2="51.62" y2="464.90" stroke="#333" stroke-width="0.55" />
<line x1="52.65" y1="454.90" x2="52.65" y2="464.90" stroke="#555" stroke-width="0.55" />
<line x1="53.40" y1="454.90" x2="53.40" y2="464.90" stroke="#333" stroke-width="0.55" />
<line x1="53.66" y1="454.90" x2="53.66" y2="464.90" stroke="#555" stroke-width="0.55" />
<line x1="54.55" y1="454.90" x2="54.55" y2="464.90" stroke="#666" stroke-width="0.55" />
<line x1="55.39" y1="454.90" x2="55.39" y2="464.90" stroke="#444" stroke-width="0.55" />
<line x1="58.83" y1="454.90" x2="58.83" y2="464.90" stroke="#000" stroke-width="0.55" />
<line x1="59.19" y1="454.90" x2="59.19" y2="464.90" stroke="#111" stroke-width="0.55" />
<line x1="63.45" y1="454.90" x2="63.45" y2="464.90" stroke="#555" stroke-width="0.55" />
<line x1="64.14" y1="454.90" x2="64.14" y2="464.90" stroke="#444" stroke-width="0.55" />
<line x1="64.93" y1="454.90" x2="64.93" y2="464.90" stroke="#444" stroke-width="0.55" />
<line x1="68.59" y1="454.90" x2="68.59" y2="464.90" stroke="#888" stroke-width="0.55" />
<line x1="69.50" y1="454.90" x2="69.50" y2="464.90" stroke="#666" stroke-width="0.55" />
<line x1="70.02" y1="454.90" x2="70.02" y2="464.90" stroke="#999" stroke-width="0.55" />
<line x1="70.92" y1="454.90" x2="70.92" y2="464.90" stroke="#999" stroke-width="0.55" />
<line x1="71.66" y1="454.90" x2="71.66" y2="464.90" stroke="#777" stroke-width="0.55" />
<line x1="72.22" y1="454.90" x2="72.22" y2="464.90" stroke="#777" stroke-width="0.55" />
<line x1="73.31" y1="454.90" x2="73.31" y2="464.90" stroke="#777" stroke-width="0.55" />
<line x1="74.10" y1="454.90" x2="74.10" y2="464.90" stroke="#999" stroke-width="0.55" />
<line x1="74.58" y1="454.90" x2="74.58" y2="464.90" stroke="#666" stroke-width="0.55" />
<line x1="75.83" y1="454.90" x2="75.83" y2="464.90" stroke="#666" stroke-width="0.55" />
<line x1="76.19" y1="454.90" x2="76.19" y2="464.90" stroke="#555" stroke-width="0.55" />
<line x1="77.07" y1="454.90" x2="77.07" y2="464.90" stroke="#444" stroke-width="0.55" />
<line x1="77.60" y1="454.90" x2="77.60" y2="464.90" stroke="#333" stroke-width="0.55" />
<line x1="78.34" y1="454.90" x2="78.34" y2="464.90" stroke="#444" stroke-width="0.55" />
<line x1="79.16" y1="454.90" x2="79.16" y2="464.90" stroke="#555" stroke-width="0.55" />
<line x1="80.16" y1="454.90" x2="80.16" y2="464.90" stroke="#555" stroke-width="0.55" />
<line x1="80.57" y1="454.90" x2="80.57" y2="464.90" stroke="#444" stroke-width="0.55" />
<line x1="81.38" y1="454.90" x2="81.38" y2="464.90" stroke="#666" stroke-width="0.55" />
<line x1="82.35" y1="454.90" x2="82.35" y2="464.90" stroke="#666" stroke-width="0.55" />
<line x1="82.86" y1="454.90" x2="82.86" y2="464.90" stroke="#555" stroke-width="0.55" />
<line x1="83.68" y1="454.90" x2="83.68" y2="464.90" stroke="#333" stroke-width="0.55" />
<line x1="84.56" y1="454.90" x2="84.56" y2="464.90" stroke="#444" stroke-width="0.55" />
<line x1="85.67" y1="454.90" x2="85.67" y2="464.90" stroke="#444" stroke-width="0.55" />
<line x1="86.44" y1="454.90" x2="86.44" y2="464.90" stroke="#444" stroke-width="0.55" />
<line x1="86.70" y1="454.90" x2="86.70" y2="464.90" stroke="#555" stroke-width="0.55" />
<line x1="87.45" y1="454.90" x2="87.45" y2="464.90" stroke="#555" stroke-width="0.55" />
<line x1="88.65" y1="454.90" x2="88.65" y2="464.90" stroke="#444" stroke-width="0.55" />
<line x1="88.94" y1="454.90" x2="88.94" y2="464.90" stroke="#111" stroke-width="0.55" />
<line x1="89.97" y1="454.90" x2="89.97" y2="464.90" stroke="#111" stroke-width="0.55" />
<line x1="90.57" y1="454.90" x2="90.57" y2="464.90" stroke="#333" stroke-width="0.55" />
<line x1="91.08" y1="454.90" x2="91.08" y2="464.90" stroke="#333" stroke-width="0.55" />
<line x1="92.00" y1="454.90" x2="92.00" y2="464.90" stroke="#000" stroke-width="0.55" />
<line x1="92.41" y1="454.90" x2="92.41" y2="464.90" stroke="#111" stroke-width="0.55" />
<line x1="93.55" y1="454.90" x2="93.55" y2="464.90" stroke="#222" stroke-width="0.55" />
<line x1="94.01" y1="454.90" x2="94.01" y2="464.90" stroke="#222" stroke-width="0.55" />
<line x1="94.48" y1="454.90" x2="94.48" y2="464.90" stroke="#222" stroke-width="0.55" />
<line x1="95.23" y1="454.90" x2="95.23" y2="464.90" stroke="#222" stroke-width="0.55" />
<rect x="27.20" y="464.40" width="13.75" height="3.70" fill="#e8353d" />
<rect x="40.90" y="464.40" width="8.96" height="3.70" fill="#ee6c75" />
<rect x="49.80" y="464.40" width="7.58" height="3.70" fill="#eb9bc0" />
<rect x="57.34" y="464.40" width="6.22" height="3.70" fill="#e8b6d2" />
<rect x="63.50" y="464.40" width="7.58" height="3.70" fill="#cdcbeb" />
<rect x="71.04" y="464.40" width="7.58" height="3.70" fill="#b2b2e0" />
<rect x="78.58" y="464.40" width="8.27" height="3.70" fill="#4f5ab2" />
<rect x="86.80" y="464.40" width="8.96" height="3.70" fill="#2e3c9e" />
<text x="28.20" y="470.10" font-size="2.0" fill="#e8353d">'na_pos' (positively correlated)</text>
<rect x="27.20" y="467.90" width="68.50" height="20.90" fill="#ffffff" stroke="#cfcfcf" stroke-width="0.3" />
<line x1="27.20" y1="472.08" x2="95.70" y2="472.08" stroke="#efefef" stroke-width="0.3" />
<line x1="27.20" y1="476.26" x2="95.70" y2="476.26" stroke="#efefef" stroke-width="0.3" />
<line x1="27.20" y1="480.44" x2="95.70" y2="480.44" stroke="#efefef" stroke-width="0.3" />
<line x1="27.20" y1="484.62" x2="95.70" y2="484.62" stroke="#efefef" stroke-width="0.3" />
<path d="M27.20,476.26 L27.20,470.91 C29.94,473.85 39.53,475.76 55.97,476.26 L62.82,476.26 C82.00,476.96 92.96,480.07 95.70,485.79 L95.70,476.26 Z" stroke="none" stroke-width="0" fill="#a9a9a9" />
<line x1="27.20" y1="476.26" x2="95.70" y2="476.26" stroke="#9a9a9a" stroke-width="0.3" />
<text x="61.45" y="478.86" font-size="2.0" text-anchor="middle" fill="#333">Zero cross at 8366</text>
<text x="93.70" y="487.60" font-size="2.0" text-anchor="end" fill="#2e3c9e">'na_neg' (negatively correlated)</text>
<text x="23.60" y="478.35" font-size="2.0" text-anchor="middle" fill="#333" transform="rotate(-90 23.60 478.35)">Ranked list metric (Preranked)</text>
<text x="27.20" y="491.00" font-size="1.9" text-anchor="middle" fill="#444">0</text>
<text x="36.71" y="491.00" font-size="1.9" text-anchor="middle" fill="#444">2,000</text>
<text x="46.23" y="491.00" font-size="1.9" text-anchor="middle" fill="#444">4,000</text>
<text x="55.74" y="491.00" font-size="1.9" text-anchor="middle" fill="#444">6,000</text>
<text x="65.26" y="491.00" font-size="1.9" text-anchor="middle" fill="#444">8,000</text>
<text x="74.77" y="491.00" font-size="1.9" text-anchor="middle" fill="#444">10,000</text>
<text x="84.28" y="491.00" font-size="1.9" text-anchor="middle" fill="#444">12,000</text>
<text x="93.80" y="491.00" font-size="1.9" text-anchor="middle" fill="#444">14,000</text>
<text x="61.45" y="493.40" font-size="2.3" text-anchor="middle" fill="#333">Rank in Ordered Dataset</text>
<rect x="29.30" y="496.60" width="58.30" height="3.60" fill="#ffffff" stroke="#666" stroke-width="0.4" />
<line x1="30.30" y1="498.40" x2="32.30" y2="498.40" stroke="#5cbf4c" stroke-width="0.6" />
<text x="32.80" y="499.10" font-size="2.0" fill="#333">Enrichment profile  — Hits    — Ranking metric scores</text>
<text x="15.60" y="513.60" font-size="8.3" fill="#d69a3e"><tspan font-style="italic">Zeb1</tspan><tspan dx="1.66" dy="-2.49" font-size="4.98">&#916;M</tspan></text>
<text x="103.60" y="513.60" font-size="8.3" text-anchor="end" fill="#6fb8e6"><tspan font-style="italic">Zeb1</tspan><tspan dx="1.6" dy="-2.6" font-size="5.0">WT</tspan></text>
<text x="15.60" y="525.30" font-size="7.8">NES</text>
<text x="104.70" y="525.30" font-size="7.8" text-anchor="end">- 2.09</text>
<text x="15.60" y="537.00" font-size="7.8">Nominal <tspan font-style="italic">p</tspan> value</text>
<text x="104.70" y="537.00" font-size="7.8" text-anchor="end">&lt; 0.01</text>
<rect x="112.40" y="382.40" width="97.40" height="161.20" fill="#eeeeee" stroke="#8a8a8a" stroke-width="0.9" />
<text x="0" y="0" font-size="7.8" text-anchor="middle" transform="translate(161.40 392.60) scale(0.91 1)">Reactome Interleukin 4 and</text>
<text x="0" y="0" font-size="7.8" text-anchor="middle" transform="translate(161.40 401.30) scale(0.91 1)">Interleukin 13 signaling</text>
<text x="116.80" y="417.90" font-size="7.7">LPS LPS</text>
<text x="205.20" y="417.90" font-size="7.7" text-anchor="end">LPS LPS</text>
<rect x="120.00" y="427.00" width="80.00" height="74.00" fill="#ffffff" />
<rect x="128.80" y="428.90" width="68.30" height="28.20" fill="#ffffff" stroke="#cfcfcf" stroke-width="0.4" />
<line x1="138.29" y1="428.90" x2="138.29" y2="457.10" stroke="#ececec" stroke-width="0.35" />
<line x1="147.77" y1="428.90" x2="147.77" y2="457.10" stroke="#ececec" stroke-width="0.35" />
<line x1="157.26" y1="428.90" x2="157.26" y2="457.10" stroke="#ececec" stroke-width="0.35" />
<line x1="166.74" y1="428.90" x2="166.74" y2="457.10" stroke="#ececec" stroke-width="0.35" />
<line x1="176.23" y1="428.90" x2="176.23" y2="457.10" stroke="#ececec" stroke-width="0.35" />
<line x1="185.72" y1="428.90" x2="185.72" y2="457.10" stroke="#ececec" stroke-width="0.35" />
<line x1="195.20" y1="428.90" x2="195.20" y2="457.10" stroke="#ececec" stroke-width="0.35" />
<line x1="128.80" y1="432.93" x2="197.10" y2="432.93" stroke="#ececec" stroke-width="0.35" />
<line x1="128.80" y1="436.96" x2="197.10" y2="436.96" stroke="#ececec" stroke-width="0.35" />
<line x1="128.80" y1="440.99" x2="197.10" y2="440.99" stroke="#ececec" stroke-width="0.35" />
<line x1="128.80" y1="445.01" x2="197.10" y2="445.01" stroke="#ececec" stroke-width="0.35" />
<line x1="128.80" y1="449.04" x2="197.10" y2="449.04" stroke="#ececec" stroke-width="0.35" />
<line x1="128.80" y1="453.07" x2="197.10" y2="453.07" stroke="#ececec" stroke-width="0.35" />
<line x1="128.80" y1="436.23" x2="197.10" y2="436.23" stroke="#aaaaaa" stroke-width="0.4" />
<line x1="127.60" y1="428.90" x2="128.80" y2="428.90" stroke="#999" stroke-width="0.3" />
<text x="128.00" y="429.60" font-size="2.0" text-anchor="end" fill="#444">-0.0</text>
<line x1="127.60" y1="432.93" x2="128.80" y2="432.93" stroke="#999" stroke-width="0.3" />
<text x="128.00" y="433.63" font-size="2.0" text-anchor="end" fill="#444">-0.1</text>
<line x1="127.60" y1="436.96" x2="128.80" y2="436.96" stroke="#999" stroke-width="0.3" />
<text x="128.00" y="437.66" font-size="2.0" text-anchor="end" fill="#444">-0.2</text>
<line x1="127.60" y1="440.99" x2="128.80" y2="440.99" stroke="#999" stroke-width="0.3" />
<text x="128.00" y="441.69" font-size="2.0" text-anchor="end" fill="#444">-0.3</text>
<line x1="127.60" y1="445.01" x2="128.80" y2="445.01" stroke="#999" stroke-width="0.3" />
<text x="128.00" y="445.71" font-size="2.0" text-anchor="end" fill="#444">-0.4</text>
<line x1="127.60" y1="449.04" x2="128.80" y2="449.04" stroke="#999" stroke-width="0.3" />
<text x="128.00" y="449.74" font-size="2.0" text-anchor="end" fill="#444">-0.5</text>
<line x1="127.60" y1="453.07" x2="128.80" y2="453.07" stroke="#999" stroke-width="0.3" />
<text x="128.00" y="453.77" font-size="2.0" text-anchor="end" fill="#444">-0.6</text>
<line x1="127.60" y1="457.10" x2="128.80" y2="457.10" stroke="#999" stroke-width="0.3" />
<text x="128.00" y="457.80" font-size="2.0" text-anchor="end" fill="#444">-0.7</text>
<text x="122.60" y="443.00" font-size="2.1" text-anchor="middle" fill="#333" transform="rotate(-90 122.60 443.00)">Enrichment score (ES)</text>
<polyline points="128.80,436.23 130.17,429.76 130.95,430.21 131.73,430.21 132.51,430.45 133.29,430.03 134.07,430.06 134.85,430.43 135.63,430.42 136.48,430.04 137.34,430.15 138.19,429.82 139.05,429.93 140.07,430.05 141.09,430.69 142.46,431.43 143.31,431.48 144.17,431.84 145.02,432.63 145.88,432.94 146.73,433.03 147.58,433.73 148.44,434.23 149.29,434.31 150.05,435.11 150.81,435.22 151.57,435.84 152.33,436.14 153.08,436.69 153.84,437.68 154.60,437.76 155.36,438.63 156.12,438.73 156.88,439.31 157.64,439.96 158.40,440.31 159.16,440.39 159.91,441.18 160.67,441.68 161.43,441.84 162.19,442.26 162.95,443.25 163.75,443.42 164.56,443.62 165.36,444.21 166.16,444.47 166.97,445.28 167.77,445.49 168.57,445.63 169.38,446.53 170.18,446.45 170.99,447.00 171.79,447.24 172.59,448.14 173.40,448.13 174.20,448.82 175.00,448.95 175.81,449.62 176.61,450.18 177.42,450.51 178.22,450.89 179.03,451.35 179.84,451.75 180.65,452.29 181.45,452.39 182.26,453.08 183.07,453.36 183.87,454.22 184.68,454.71 185.49,454.55 186.85,454.60 187.88,453.99 188.90,452.92 189.93,452.97 190.95,453.85 191.86,452.51 192.77,450.66 193.69,449.10 194.71,447.56 195.73,445.82 197.10,436.23" fill="none" stroke="#58c04a" stroke-width="0.9"/>
<rect x="128.80" y="457.10" width="68.30" height="9.20" fill="#ffffff" stroke="#cfcfcf" stroke-width="0.3" />
<line x1="129.38" y1="457.30" x2="129.38" y2="466.30" stroke="#222" stroke-width="0.55" />
<line x1="129.75" y1="457.30" x2="129.75" y2="466.30" stroke="#111" stroke-width="0.55" />
<line x1="132.99" y1="457.30" x2="132.99" y2="466.30" stroke="#666" stroke-width="0.55" />
<line x1="134.09" y1="457.30" x2="134.09" y2="466.30" stroke="#777" stroke-width="0.55" />
<line x1="134.54" y1="457.30" x2="134.54" y2="466.30" stroke="#777" stroke-width="0.55" />
<line x1="135.12" y1="457.30" x2="135.12" y2="466.30" stroke="#777" stroke-width="0.55" />
<line x1="136.24" y1="457.30" x2="136.24" y2="466.30" stroke="#999" stroke-width="0.55" />
<line x1="139.40" y1="457.30" x2="139.40" y2="466.30" stroke="#555" stroke-width="0.55" />
<line x1="140.34" y1="457.30" x2="140.34" y2="466.30" stroke="#333" stroke-width="0.55" />
<line x1="144.61" y1="457.30" x2="144.61" y2="466.30" stroke="#888" stroke-width="0.55" />
<line x1="145.88" y1="457.30" x2="145.88" y2="466.30" stroke="#777" stroke-width="0.55" />
<line x1="146.33" y1="457.30" x2="146.33" y2="466.30" stroke="#999" stroke-width="0.55" />
<line x1="147.10" y1="457.30" x2="147.10" y2="466.30" stroke="#888" stroke-width="0.55" />
<line x1="148.16" y1="457.30" x2="148.16" y2="466.30" stroke="#999" stroke-width="0.55" />
<line x1="148.76" y1="457.30" x2="148.76" y2="466.30" stroke="#999" stroke-width="0.55" />
<line x1="151.45" y1="457.30" x2="151.45" y2="466.30" stroke="#bbb" stroke-width="0.55" />
<line x1="152.63" y1="457.30" x2="152.63" y2="466.30" stroke="#bbb" stroke-width="0.55" />
<line x1="153.38" y1="457.30" x2="153.38" y2="466.30" stroke="#b5b5b5" stroke-width="0.55" />
<line x1="154.15" y1="457.30" x2="154.15" y2="466.30" stroke="#b5b5b5" stroke-width="0.55" />
<line x1="157.49" y1="457.30" x2="157.49" y2="466.30" stroke="#ccc" stroke-width="0.55" />
<line x1="163.40" y1="457.30" x2="163.40" y2="466.30" stroke="#777" stroke-width="0.55" />
<line x1="164.13" y1="457.30" x2="164.13" y2="466.30" stroke="#666" stroke-width="0.55" />
<line x1="165.20" y1="457.30" x2="165.20" y2="466.30" stroke="#999" stroke-width="0.55" />
<line x1="165.84" y1="457.30" x2="165.84" y2="466.30" stroke="#777" stroke-width="0.55" />
<line x1="166.78" y1="457.30" x2="166.78" y2="466.30" stroke="#777" stroke-width="0.55" />
<line x1="168.10" y1="457.30" x2="168.10" y2="466.30" stroke="#888" stroke-width="0.55" />
<line x1="172.01" y1="457.30" x2="172.01" y2="466.30" stroke="#666" stroke-width="0.55" />
<line x1="172.82" y1="457.30" x2="172.82" y2="466.30" stroke="#666" stroke-width="0.55" />
<line x1="173.29" y1="457.30" x2="173.29" y2="466.30" stroke="#333" stroke-width="0.55" />
<line x1="174.09" y1="457.30" x2="174.09" y2="466.30" stroke="#555" stroke-width="0.55" />
<line x1="177.03" y1="457.30" x2="177.03" y2="466.30" stroke="#666" stroke-width="0.55" />
<line x1="177.57" y1="457.30" x2="177.57" y2="466.30" stroke="#888" stroke-width="0.55" />
<line x1="178.34" y1="457.30" x2="178.34" y2="466.30" stroke="#888" stroke-width="0.55" />
<line x1="179.17" y1="457.30" x2="179.17" y2="466.30" stroke="#888" stroke-width="0.55" />
<line x1="180.50" y1="457.30" x2="180.50" y2="466.30" stroke="#999" stroke-width="0.55" />
<line x1="181.31" y1="457.30" x2="181.31" y2="466.30" stroke="#777" stroke-width="0.55" />
<line x1="182.07" y1="457.30" x2="182.07" y2="466.30" stroke="#666" stroke-width="0.55" />
<line x1="183.76" y1="457.30" x2="183.76" y2="466.30" stroke="#666" stroke-width="0.55" />
<line x1="184.37" y1="457.30" x2="184.37" y2="466.30" stroke="#333" stroke-width="0.55" />
<line x1="185.35" y1="457.30" x2="185.35" y2="466.30" stroke="#333" stroke-width="0.55" />
<line x1="186.10" y1="457.30" x2="186.10" y2="466.30" stroke="#333" stroke-width="0.55" />
<line x1="186.74" y1="457.30" x2="186.74" y2="466.30" stroke="#333" stroke-width="0.55" />
<line x1="187.16" y1="457.30" x2="187.16" y2="466.30" stroke="#333" stroke-width="0.55" />
<line x1="188.08" y1="457.30" x2="188.08" y2="466.30" stroke="#444" stroke-width="0.55" />
<line x1="190.38" y1="457.30" x2="190.38" y2="466.30" stroke="#555" stroke-width="0.55" />
<line x1="191.05" y1="457.30" x2="191.05" y2="466.30" stroke="#666" stroke-width="0.55" />
<line x1="192.19" y1="457.30" x2="192.19" y2="466.30" stroke="#444" stroke-width="0.55" />
<line x1="192.39" y1="457.30" x2="192.39" y2="466.30" stroke="#666" stroke-width="0.55" />
<line x1="193.33" y1="457.30" x2="193.33" y2="466.30" stroke="#666" stroke-width="0.55" />
<line x1="195.51" y1="457.30" x2="195.51" y2="466.30" stroke="#000" stroke-width="0.55" />
<line x1="195.96" y1="457.30" x2="195.96" y2="466.30" stroke="#222" stroke-width="0.55" />
<line x1="196.62" y1="457.30" x2="196.62" y2="466.30" stroke="#000" stroke-width="0.55" />
<rect x="128.80" y="465.80" width="13.71" height="3.50" fill="#e8353d" />
<rect x="142.46" y="465.80" width="8.93" height="3.50" fill="#ee6c75" />
<rect x="151.34" y="465.80" width="7.56" height="3.50" fill="#eb9bc0" />
<rect x="158.85" y="465.80" width="6.20" height="3.50" fill="#e8b6d2" />
<rect x="165.00" y="465.80" width="7.56" height="3.50" fill="#cdcbeb" />
<rect x="172.51" y="465.80" width="7.56" height="3.50" fill="#b2b2e0" />
<rect x="180.03" y="465.80" width="8.25" height="3.50" fill="#4f5ab2" />
<rect x="188.22" y="465.80" width="8.93" height="3.50" fill="#2e3c9e" />
<text x="129.80" y="471.30" font-size="2.0" fill="#e8353d">'na_pos' (positively correlated)</text>
<rect x="128.80" y="469.10" width="68.30" height="18.70" fill="#ffffff" stroke="#cfcfcf" stroke-width="0.3" />
<line x1="128.80" y1="472.84" x2="197.10" y2="472.84" stroke="#efefef" stroke-width="0.3" />
<line x1="128.80" y1="476.58" x2="197.10" y2="476.58" stroke="#efefef" stroke-width="0.3" />
<line x1="128.80" y1="480.32" x2="197.10" y2="480.32" stroke="#efefef" stroke-width="0.3" />
<line x1="128.80" y1="484.06" x2="197.10" y2="484.06" stroke="#efefef" stroke-width="0.3" />
<path d="M128.80,479.76 L128.80,475.50 C131.53,477.84 141.09,479.26 157.49,479.76 L164.32,479.76 C183.44,480.46 194.37,481.98 197.10,485.31 L197.10,479.76 Z" stroke="none" stroke-width="0" fill="#a9a9a9" />
<line x1="128.80" y1="479.76" x2="197.10" y2="479.76" stroke="#9a9a9a" stroke-width="0.3" />
<text x="162.95" y="482.36" font-size="2.0" text-anchor="middle" fill="#333">Zero cross at 8366</text>
<text x="195.10" y="486.60" font-size="2.0" text-anchor="end" fill="#2e3c9e">'na_neg' (negatively correlated)</text>
<text x="122.60" y="478.45" font-size="2.0" text-anchor="middle" fill="#333" transform="rotate(-90 122.60 478.45)">Ranked list metric (Preranked)</text>
<text x="128.80" y="490.00" font-size="1.9" text-anchor="middle" fill="#444">0</text>
<text x="138.29" y="490.00" font-size="1.9" text-anchor="middle" fill="#444">2,000</text>
<text x="147.77" y="490.00" font-size="1.9" text-anchor="middle" fill="#444">4,000</text>
<text x="157.26" y="490.00" font-size="1.9" text-anchor="middle" fill="#444">6,000</text>
<text x="166.74" y="490.00" font-size="1.9" text-anchor="middle" fill="#444">8,000</text>
<text x="176.23" y="490.00" font-size="1.9" text-anchor="middle" fill="#444">10,000</text>
<text x="185.72" y="490.00" font-size="1.9" text-anchor="middle" fill="#444">12,000</text>
<text x="195.20" y="490.00" font-size="1.9" text-anchor="middle" fill="#444">14,000</text>
<text x="162.95" y="492.40" font-size="2.3" text-anchor="middle" fill="#333">Rank in Ordered Dataset</text>
<rect x="130.90" y="495.70" width="58.00" height="3.30" fill="#ffffff" stroke="#666" stroke-width="0.4" />
<line x1="131.90" y1="497.35" x2="133.90" y2="497.35" stroke="#5cbf4c" stroke-width="0.6" />
<text x="134.40" y="498.05" font-size="2.0" fill="#333">Enrichment profile  — Hits    — Ranking metric scores</text>
<text x="117.00" y="513.60" font-size="8.3" fill="#d69a3e"><tspan font-style="italic">Zeb1</tspan><tspan dx="1.66" dy="-2.49" font-size="4.98">&#916;M</tspan></text>
<text x="205.80" y="513.60" font-size="8.3" text-anchor="end" fill="#6fb8e6"><tspan font-style="italic">Zeb1</tspan><tspan dx="1.6" dy="-2.6" font-size="5.0">WT</tspan></text>
<text x="117.00" y="525.30" font-size="7.8">NES</text>
<text x="206.90" y="525.30" font-size="7.8" text-anchor="end">- 1.62</text>
<text x="117.00" y="537.00" font-size="7.8">Nominal <tspan font-style="italic">p</tspan> value</text>
<text x="207.20" y="537.00" font-size="7.8" text-anchor="end">&lt; 0.01</text>
<text x="235.30" y="208.70" font-size="18.8">e</text>
<text x="320.70" y="220.40" font-size="9.5" text-anchor="middle">Inflammation-related Genes</text>
<text x="290.10" y="238.60" font-size="8.3" text-anchor="middle">LPS</text>
<text x="348.30" y="238.60" font-size="8.3" text-anchor="middle">LPS LPS</text>
<line x1="256.60" y1="244.60" x2="319.70" y2="244.60" stroke="#aaa" stroke-width="0.9" />
<line x1="322.80" y1="244.60" x2="376.50" y2="244.60" stroke="#aaa" stroke-width="0.9" />
<rect x="256.50" y="248.20" width="11.11" height="12.11" fill="#E07860" />
<rect x="267.59" y="248.20" width="11.11" height="12.11" fill="#F8C0A2" />
<rect x="278.68" y="248.20" width="11.11" height="12.11" fill="#AED4E7" />
<rect x="289.77" y="248.20" width="11.11" height="12.11" fill="#92C6E0" />
<rect x="300.86" y="248.20" width="11.11" height="12.11" fill="#E07860" />
<rect x="311.95" y="248.20" width="11.11" height="12.11" fill="#FAD9C6" />
<rect x="323.05" y="248.20" width="11.11" height="12.11" fill="#92C6E0" />
<rect x="334.14" y="248.20" width="11.11" height="12.11" fill="#3A86BF" />
<rect x="345.23" y="248.20" width="11.11" height="12.11" fill="#F8C0A2" />
<rect x="356.32" y="248.20" width="11.11" height="12.11" fill="#F09C7C" />
<rect x="367.41" y="248.20" width="11.11" height="12.11" fill="#E4DDDA" />
<rect x="256.50" y="260.29" width="11.11" height="12.11" fill="#F09C7C" />
<rect x="267.59" y="260.29" width="11.11" height="12.11" fill="#E07860" />
<rect x="278.68" y="260.29" width="11.11" height="12.11" fill="#F09C7C" />
<rect x="289.77" y="260.29" width="11.11" height="12.11" fill="#CFE2EC" />
<rect x="300.86" y="260.29" width="11.11" height="12.11" fill="#F09C7C" />
<rect x="311.95" y="260.29" width="11.11" height="12.11" fill="#E07860" />
<rect x="323.05" y="260.29" width="11.11" height="12.11" fill="#5FA3CF" />
<rect x="334.14" y="260.29" width="11.11" height="12.11" fill="#7DB8DA" />
<rect x="345.23" y="260.29" width="11.11" height="12.11" fill="#CFE2EC" />
<rect x="356.32" y="260.29" width="11.11" height="12.11" fill="#CFE2EC" />
<rect x="367.41" y="260.29" width="11.11" height="12.11" fill="#AED4E7" />
<rect x="256.50" y="272.37" width="11.11" height="12.11" fill="#FAD9C6" />
<rect x="267.59" y="272.37" width="11.11" height="12.11" fill="#E07860" />
<rect x="278.68" y="272.37" width="11.11" height="12.11" fill="#8E1230" />
<rect x="289.77" y="272.37" width="11.11" height="12.11" fill="#E4DDDA" />
<rect x="300.86" y="272.37" width="11.11" height="12.11" fill="#E4DDDA" />
<rect x="311.95" y="272.37" width="11.11" height="12.11" fill="#FAD9C6" />
<rect x="323.05" y="272.37" width="11.11" height="12.11" fill="#92C6E0" />
<rect x="334.14" y="272.37" width="11.11" height="12.11" fill="#92C6E0" />
<rect x="345.23" y="272.37" width="11.11" height="12.11" fill="#92C6E0" />
<rect x="356.32" y="272.37" width="11.11" height="12.11" fill="#92C6E0" />
<rect x="367.41" y="272.37" width="11.11" height="12.11" fill="#92C6E0" />
<rect x="256.50" y="284.46" width="11.11" height="12.11" fill="#F8C0A2" />
<rect x="267.59" y="284.46" width="11.11" height="12.11" fill="#F09C7C" />
<rect x="278.68" y="284.46" width="11.11" height="12.11" fill="#B51F35" />
<rect x="289.77" y="284.46" width="11.11" height="12.11" fill="#F8C0A2" />
<rect x="300.86" y="284.46" width="11.11" height="12.11" fill="#E4DDDA" />
<rect x="311.95" y="284.46" width="11.11" height="12.11" fill="#FAD9C6" />
<rect x="323.05" y="284.46" width="11.11" height="12.11" fill="#92C6E0" />
<rect x="334.14" y="284.46" width="11.11" height="12.11" fill="#92C6E0" />
<rect x="345.23" y="284.46" width="11.11" height="12.11" fill="#92C6E0" />
<rect x="356.32" y="284.46" width="11.11" height="12.11" fill="#7DB8DA" />
<rect x="367.41" y="284.46" width="11.11" height="12.11" fill="#92C6E0" />
<rect x="256.50" y="296.55" width="11.11" height="12.11" fill="#F09C7C" />
<rect x="267.59" y="296.55" width="11.11" height="12.11" fill="#CD4B44" />
<rect x="278.68" y="296.55" width="11.11" height="12.11" fill="#E07860" />
<rect x="289.77" y="296.55" width="11.11" height="12.11" fill="#FAD9C6" />
<rect x="300.86" y="296.55" width="11.11" height="12.11" fill="#FAD9C6" />
<rect x="311.95" y="296.55" width="11.11" height="12.11" fill="#F8C0A2" />
<rect x="323.05" y="296.55" width="11.11" height="12.11" fill="#92C6E0" />
<rect x="334.14" y="296.55" width="11.11" height="12.11" fill="#92C6E0" />
<rect x="345.23" y="296.55" width="11.11" height="12.11" fill="#92C6E0" />
<rect x="356.32" y="296.55" width="11.11" height="12.11" fill="#92C6E0" />
<rect x="367.41" y="296.55" width="11.11" height="12.11" fill="#92C6E0" />
<rect x="256.50" y="308.63" width="11.11" height="12.11" fill="#F09C7C" />
<rect x="267.59" y="308.63" width="11.11" height="12.11" fill="#CD4B44" />
<rect x="278.68" y="308.63" width="11.11" height="12.11" fill="#E07860" />
<rect x="289.77" y="308.63" width="11.11" height="12.11" fill="#F8C0A2" />
<rect x="300.86" y="308.63" width="11.11" height="12.11" fill="#E4DDDA" />
<rect x="311.95" y="308.63" width="11.11" height="12.11" fill="#F8C0A2" />
<rect x="323.05" y="308.63" width="11.11" height="12.11" fill="#92C6E0" />
<rect x="334.14" y="308.63" width="11.11" height="12.11" fill="#AED4E7" />
<rect x="345.23" y="308.63" width="11.11" height="12.11" fill="#7DB8DA" />
<rect x="356.32" y="308.63" width="11.11" height="12.11" fill="#7DB8DA" />
<rect x="367.41" y="308.63" width="11.11" height="12.11" fill="#92C6E0" />
<rect x="256.50" y="320.72" width="11.11" height="12.11" fill="#E07860" />
<rect x="267.59" y="320.72" width="11.11" height="12.11" fill="#E07860" />
<rect x="278.68" y="320.72" width="11.11" height="12.11" fill="#D6604F" />
<rect x="289.77" y="320.72" width="11.11" height="12.11" fill="#CFE2EC" />
<rect x="300.86" y="320.72" width="11.11" height="12.11" fill="#FAD9C6" />
<rect x="311.95" y="320.72" width="11.11" height="12.11" fill="#F8C0A2" />
<rect x="323.05" y="320.72" width="11.11" height="12.11" fill="#CFE2EC" />
<rect x="334.14" y="320.72" width="11.11" height="12.11" fill="#7DB8DA" />
<rect x="345.23" y="320.72" width="11.11" height="12.11" fill="#92C6E0" />
<rect x="356.32" y="320.72" width="11.11" height="12.11" fill="#7DB8DA" />
<rect x="367.41" y="320.72" width="11.11" height="12.11" fill="#7DB8DA" />
<rect x="256.50" y="332.81" width="11.11" height="12.11" fill="#E07860" />
<rect x="267.59" y="332.81" width="11.11" height="12.11" fill="#E07860" />
<rect x="278.68" y="332.81" width="11.11" height="12.11" fill="#D6604F" />
<rect x="289.77" y="332.81" width="11.11" height="12.11" fill="#CFE2EC" />
<rect x="300.86" y="332.81" width="11.11" height="12.11" fill="#CFE2EC" />
<rect x="311.95" y="332.81" width="11.11" height="12.11" fill="#F8C0A2" />
<rect x="323.05" y="332.81" width="11.11" height="12.11" fill="#92C6E0" />
<rect x="334.14" y="332.81" width="11.11" height="12.11" fill="#AED4E7" />
<rect x="345.23" y="332.81" width="11.11" height="12.11" fill="#AED4E7" />
<rect x="356.32" y="332.81" width="11.11" height="12.11" fill="#92C6E0" />
<rect x="367.41" y="332.81" width="11.11" height="12.11" fill="#92C6E0" />
<rect x="256.50" y="344.90" width="11.11" height="12.11" fill="#F09C7C" />
<rect x="267.59" y="344.90" width="11.11" height="12.11" fill="#CD4B44" />
<rect x="278.68" y="344.90" width="11.11" height="12.11" fill="#E07860" />
<rect x="289.77" y="344.90" width="11.11" height="12.11" fill="#D9DCDC" />
<rect x="300.86" y="344.90" width="11.11" height="12.11" fill="#F1DBD0" />
<rect x="311.95" y="344.90" width="11.11" height="12.11" fill="#FAD9C6" />
<rect x="323.05" y="344.90" width="11.11" height="12.11" fill="#92C6E0" />
<rect x="334.14" y="344.90" width="11.11" height="12.11" fill="#92C6E0" />
<rect x="345.23" y="344.90" width="11.11" height="12.11" fill="#92C6E0" />
<rect x="356.32" y="344.90" width="11.11" height="12.11" fill="#92C6E0" />
<rect x="367.41" y="344.90" width="11.11" height="12.11" fill="#92C6E0" />
<rect x="256.50" y="356.98" width="11.11" height="12.11" fill="#E07860" />
<rect x="267.59" y="356.98" width="11.11" height="12.11" fill="#CD4B44" />
<rect x="278.68" y="356.98" width="11.11" height="12.11" fill="#E07860" />
<rect x="289.77" y="356.98" width="11.11" height="12.11" fill="#CFE2EC" />
<rect x="300.86" y="356.98" width="11.11" height="12.11" fill="#FAD9C6" />
<rect x="311.95" y="356.98" width="11.11" height="12.11" fill="#D9DCDC" />
<rect x="323.05" y="356.98" width="11.11" height="12.11" fill="#AED4E7" />
<rect x="334.14" y="356.98" width="11.11" height="12.11" fill="#92C6E0" />
<rect x="345.23" y="356.98" width="11.11" height="12.11" fill="#92C6E0" />
<rect x="356.32" y="356.98" width="11.11" height="12.11" fill="#92C6E0" />
<rect x="367.41" y="356.98" width="11.11" height="12.11" fill="#AED4E7" />
<rect x="256.50" y="369.07" width="11.11" height="12.11" fill="#E07860" />
<rect x="267.59" y="369.07" width="11.11" height="12.11" fill="#CD4B44" />
<rect x="278.68" y="369.07" width="11.11" height="12.11" fill="#E07860" />
<rect x="289.77" y="369.07" width="11.11" height="12.11" fill="#CFE2EC" />
<rect x="300.86" y="369.07" width="11.11" height="12.11" fill="#F1DBD0" />
<rect x="311.95" y="369.07" width="11.11" height="12.11" fill="#FAD9C6" />
<rect x="323.05" y="369.07" width="11.11" height="12.11" fill="#AED4E7" />
<rect x="334.14" y="369.07" width="11.11" height="12.11" fill="#AED4E7" />
<rect x="345.23" y="369.07" width="11.11" height="12.11" fill="#92C6E0" />
<rect x="356.32" y="369.07" width="11.11" height="12.11" fill="#92C6E0" />
<rect x="367.41" y="369.07" width="11.11" height="12.11" fill="#7DB8DA" />
<rect x="256.50" y="381.16" width="11.11" height="12.11" fill="#B51F35" />
<rect x="267.59" y="381.16" width="11.11" height="12.11" fill="#F09C7C" />
<rect x="278.68" y="381.16" width="11.11" height="12.11" fill="#E07860" />
<rect x="289.77" y="381.16" width="11.11" height="12.11" fill="#AED4E7" />
<rect x="300.86" y="381.16" width="11.11" height="12.11" fill="#92C6E0" />
<rect x="311.95" y="381.16" width="11.11" height="12.11" fill="#F1DBD0" />
<rect x="323.05" y="381.16" width="11.11" height="12.11" fill="#AED4E7" />
<rect x="334.14" y="381.16" width="11.11" height="12.11" fill="#92C6E0" />
<rect x="345.23" y="381.16" width="11.11" height="12.11" fill="#CFE2EC" />
<rect x="356.32" y="381.16" width="11.11" height="12.11" fill="#92C6E0" />
<rect x="367.41" y="381.16" width="11.11" height="12.11" fill="#CFE2EC" />
<rect x="256.50" y="393.24" width="11.11" height="12.11" fill="#CD4B44" />
<rect x="267.59" y="393.24" width="11.11" height="12.11" fill="#CD4B44" />
<rect x="278.68" y="393.24" width="11.11" height="12.11" fill="#D9DCDC" />
<rect x="289.77" y="393.24" width="11.11" height="12.11" fill="#E4DDDA" />
<rect x="300.86" y="393.24" width="11.11" height="12.11" fill="#F8C0A2" />
<rect x="311.95" y="393.24" width="11.11" height="12.11" fill="#FAD9C6" />
<rect x="323.05" y="393.24" width="11.11" height="12.11" fill="#92C6E0" />
<rect x="334.14" y="393.24" width="11.11" height="12.11" fill="#92C6E0" />
<rect x="345.23" y="393.24" width="11.11" height="12.11" fill="#92C6E0" />
<rect x="356.32" y="393.24" width="11.11" height="12.11" fill="#AED4E7" />
<rect x="367.41" y="393.24" width="11.11" height="12.11" fill="#92C6E0" />
<rect x="256.50" y="405.33" width="11.11" height="12.11" fill="#CD4B44" />
<rect x="267.59" y="405.33" width="11.11" height="12.11" fill="#CD4B44" />
<rect x="278.68" y="405.33" width="11.11" height="12.11" fill="#F8C0A2" />
<rect x="289.77" y="405.33" width="11.11" height="12.11" fill="#CFE2EC" />
<rect x="300.86" y="405.33" width="11.11" height="12.11" fill="#AED4E7" />
<rect x="311.95" y="405.33" width="11.11" height="12.11" fill="#FAD9C6" />
<rect x="323.05" y="405.33" width="11.11" height="12.11" fill="#7DB8DA" />
<rect x="334.14" y="405.33" width="11.11" height="12.11" fill="#D9DCDC" />
<rect x="345.23" y="405.33" width="11.11" height="12.11" fill="#92C6E0" />
<rect x="356.32" y="405.33" width="11.11" height="12.11" fill="#7DB8DA" />
<rect x="367.41" y="405.33" width="11.11" height="12.11" fill="#92C6E0" />
<rect x="256.50" y="417.42" width="11.11" height="12.11" fill="#E07860" />
<rect x="267.59" y="417.42" width="11.11" height="12.11" fill="#B51F35" />
<rect x="278.68" y="417.42" width="11.11" height="12.11" fill="#F09C7C" />
<rect x="289.77" y="417.42" width="11.11" height="12.11" fill="#FAD9C6" />
<rect x="300.86" y="417.42" width="11.11" height="12.11" fill="#CFE2EC" />
<rect x="311.95" y="417.42" width="11.11" height="12.11" fill="#E4DDDA" />
<rect x="323.05" y="417.42" width="11.11" height="12.11" fill="#92C6E0" />
<rect x="334.14" y="417.42" width="11.11" height="12.11" fill="#AED4E7" />
<rect x="345.23" y="417.42" width="11.11" height="12.11" fill="#92C6E0" />
<rect x="356.32" y="417.42" width="11.11" height="12.11" fill="#92C6E0" />
<rect x="367.41" y="417.42" width="11.11" height="12.11" fill="#AED4E7" />
<rect x="256.50" y="429.50" width="11.11" height="12.11" fill="#E07860" />
<rect x="267.59" y="429.50" width="11.11" height="12.11" fill="#B51F35" />
<rect x="278.68" y="429.50" width="11.11" height="12.11" fill="#F8C0A2" />
<rect x="289.77" y="429.50" width="11.11" height="12.11" fill="#FAD9C6" />
<rect x="300.86" y="429.50" width="11.11" height="12.11" fill="#F1DBD0" />
<rect x="311.95" y="429.50" width="11.11" height="12.11" fill="#F8C0A2" />
<rect x="323.05" y="429.50" width="11.11" height="12.11" fill="#92C6E0" />
<rect x="334.14" y="429.50" width="11.11" height="12.11" fill="#92C6E0" />
<rect x="345.23" y="429.50" width="11.11" height="12.11" fill="#92C6E0" />
<rect x="356.32" y="429.50" width="11.11" height="12.11" fill="#92C6E0" />
<rect x="367.41" y="429.50" width="11.11" height="12.11" fill="#92C6E0" />
<rect x="256.50" y="441.59" width="11.11" height="12.11" fill="#92C6E0" />
<rect x="267.59" y="441.59" width="11.11" height="12.11" fill="#92C6E0" />
<rect x="278.68" y="441.59" width="11.11" height="12.11" fill="#92C6E0" />
<rect x="289.77" y="441.59" width="11.11" height="12.11" fill="#92C6E0" />
<rect x="300.86" y="441.59" width="11.11" height="12.11" fill="#92C6E0" />
<rect x="311.95" y="441.59" width="11.11" height="12.11" fill="#92C6E0" />
<rect x="323.05" y="441.59" width="11.11" height="12.11" fill="#E4DDDA" />
<rect x="334.14" y="441.59" width="11.11" height="12.11" fill="#E07860" />
<rect x="345.23" y="441.59" width="11.11" height="12.11" fill="#E07860" />
<rect x="356.32" y="441.59" width="11.11" height="12.11" fill="#F09C7C" />
<rect x="367.41" y="441.59" width="11.11" height="12.11" fill="#FAD9C6" />
<rect x="256.50" y="453.68" width="11.11" height="12.11" fill="#9ECBE2" />
<rect x="267.59" y="453.68" width="11.11" height="12.11" fill="#9ECBE2" />
<rect x="278.68" y="453.68" width="11.11" height="12.11" fill="#9ECBE2" />
<rect x="289.77" y="453.68" width="11.11" height="12.11" fill="#9ECBE2" />
<rect x="300.86" y="453.68" width="11.11" height="12.11" fill="#9ECBE2" />
<rect x="311.95" y="453.68" width="11.11" height="12.11" fill="#9ECBE2" />
<rect x="323.05" y="453.68" width="11.11" height="12.11" fill="#E07860" />
<rect x="334.14" y="453.68" width="11.11" height="12.11" fill="#CD4B44" />
<rect x="345.23" y="453.68" width="11.11" height="12.11" fill="#E4DDDA" />
<rect x="356.32" y="453.68" width="11.11" height="12.11" fill="#AED4E7" />
<rect x="367.41" y="453.68" width="11.11" height="12.11" fill="#E4DDDA" />
<rect x="256.50" y="465.77" width="11.11" height="12.11" fill="#92C6E0" />
<rect x="267.59" y="465.77" width="11.11" height="12.11" fill="#92C6E0" />
<rect x="278.68" y="465.77" width="11.11" height="12.11" fill="#92C6E0" />
<rect x="289.77" y="465.77" width="11.11" height="12.11" fill="#AED4E7" />
<rect x="300.86" y="465.77" width="11.11" height="12.11" fill="#92C6E0" />
<rect x="311.95" y="465.77" width="11.11" height="12.11" fill="#92C6E0" />
<rect x="323.05" y="465.77" width="11.11" height="12.11" fill="#FAD9C6" />
<rect x="334.14" y="465.77" width="11.11" height="12.11" fill="#B51F35" />
<rect x="345.23" y="465.77" width="11.11" height="12.11" fill="#E4DDDA" />
<rect x="356.32" y="465.77" width="11.11" height="12.11" fill="#F1DBD0" />
<rect x="367.41" y="465.77" width="11.11" height="12.11" fill="#CFE2EC" />
<rect x="256.50" y="477.85" width="11.11" height="12.11" fill="#FAD9C6" />
<rect x="267.59" y="477.85" width="11.11" height="12.11" fill="#F8C0A2" />
<rect x="278.68" y="477.85" width="11.11" height="12.11" fill="#FAD9C6" />
<rect x="289.77" y="477.85" width="11.11" height="12.11" fill="#92C6E0" />
<rect x="300.86" y="477.85" width="11.11" height="12.11" fill="#F8C0A2" />
<rect x="311.95" y="477.85" width="11.11" height="12.11" fill="#CFE2EC" />
<rect x="323.05" y="477.85" width="11.11" height="12.11" fill="#8E1230" />
<rect x="334.14" y="477.85" width="11.11" height="12.11" fill="#AED4E7" />
<rect x="345.23" y="477.85" width="11.11" height="12.11" fill="#92C6E0" />
<rect x="356.32" y="477.85" width="11.11" height="12.11" fill="#92C6E0" />
<rect x="367.41" y="477.85" width="11.11" height="12.11" fill="#92C6E0" />
<rect x="256.50" y="489.94" width="11.11" height="12.11" fill="#F1DBD0" />
<rect x="267.59" y="489.94" width="11.11" height="12.11" fill="#E4DDDA" />
<rect x="278.68" y="489.94" width="11.11" height="12.11" fill="#CFE2EC" />
<rect x="289.77" y="489.94" width="11.11" height="12.11" fill="#92C6E0" />
<rect x="300.86" y="489.94" width="11.11" height="12.11" fill="#E4DDDA" />
<rect x="311.95" y="489.94" width="11.11" height="12.11" fill="#92C6E0" />
<rect x="323.05" y="489.94" width="11.11" height="12.11" fill="#8E1230" />
<rect x="334.14" y="489.94" width="11.11" height="12.11" fill="#F8C0A2" />
<rect x="345.23" y="489.94" width="11.11" height="12.11" fill="#9ECBE2" />
<rect x="356.32" y="489.94" width="11.11" height="12.11" fill="#7DB8DA" />
<rect x="367.41" y="489.94" width="11.11" height="12.11" fill="#AED4E7" />
<rect x="256.50" y="502.03" width="11.11" height="12.11" fill="#AED4E7" />
<rect x="267.59" y="502.03" width="11.11" height="12.11" fill="#BFDFEC" />
<rect x="278.68" y="502.03" width="11.11" height="12.11" fill="#92C6E0" />
<rect x="289.77" y="502.03" width="11.11" height="12.11" fill="#92C6E0" />
<rect x="300.86" y="502.03" width="11.11" height="12.11" fill="#BFDFEC" />
<rect x="311.95" y="502.03" width="11.11" height="12.11" fill="#92C6E0" />
<rect x="323.05" y="502.03" width="11.11" height="12.11" fill="#67001F" />
<rect x="334.14" y="502.03" width="11.11" height="12.11" fill="#F8C0A2" />
<rect x="345.23" y="502.03" width="11.11" height="12.11" fill="#E4DDDA" />
<rect x="356.32" y="502.03" width="11.11" height="12.11" fill="#CFE2EC" />
<rect x="367.41" y="502.03" width="11.11" height="12.11" fill="#D9DCDC" />
<rect x="256.50" y="514.11" width="11.11" height="12.11" fill="#CFE2EC" />
<rect x="267.59" y="514.11" width="11.11" height="12.11" fill="#CFE2EC" />
<rect x="278.68" y="514.11" width="11.11" height="12.11" fill="#CFE2EC" />
<rect x="289.77" y="514.11" width="11.11" height="12.11" fill="#AED4E7" />
<rect x="300.86" y="514.11" width="11.11" height="12.11" fill="#AED4E7" />
<rect x="311.95" y="514.11" width="11.11" height="12.11" fill="#AED4E7" />
<rect x="323.05" y="514.11" width="11.11" height="12.11" fill="#67001F" />
<rect x="334.14" y="514.11" width="11.11" height="12.11" fill="#F8C0A2" />
<rect x="345.23" y="514.11" width="11.11" height="12.11" fill="#BFDFEC" />
<rect x="356.32" y="514.11" width="11.11" height="12.11" fill="#AED4E7" />
<rect x="367.41" y="514.11" width="11.11" height="12.11" fill="#BFDFEC" />
<line x1="256.50" y1="248.20" x2="256.50" y2="526.20" stroke="#9a9a9a" stroke-width="0.45" />
<line x1="267.59" y1="248.20" x2="267.59" y2="526.20" stroke="#9a9a9a" stroke-width="0.45" />
<line x1="278.68" y1="248.20" x2="278.68" y2="526.20" stroke="#9a9a9a" stroke-width="0.45" />
<line x1="289.77" y1="248.20" x2="289.77" y2="526.20" stroke="#9a9a9a" stroke-width="0.45" />
<line x1="300.86" y1="248.20" x2="300.86" y2="526.20" stroke="#9a9a9a" stroke-width="0.45" />
<line x1="311.95" y1="248.20" x2="311.95" y2="526.20" stroke="#9a9a9a" stroke-width="0.45" />
<line x1="323.05" y1="248.20" x2="323.05" y2="526.20" stroke="#9a9a9a" stroke-width="0.45" />
<line x1="334.14" y1="248.20" x2="334.14" y2="526.20" stroke="#9a9a9a" stroke-width="0.45" />
<line x1="345.23" y1="248.20" x2="345.23" y2="526.20" stroke="#9a9a9a" stroke-width="0.45" />
<line x1="356.32" y1="248.20" x2="356.32" y2="526.20" stroke="#9a9a9a" stroke-width="0.45" />
<line x1="367.41" y1="248.20" x2="367.41" y2="526.20" stroke="#9a9a9a" stroke-width="0.45" />
<line x1="378.50" y1="248.20" x2="378.50" y2="526.20" stroke="#9a9a9a" stroke-width="0.45" />
<line x1="256.50" y1="248.20" x2="378.50" y2="248.20" stroke="#9a9a9a" stroke-width="0.45" />
<line x1="256.50" y1="260.29" x2="378.50" y2="260.29" stroke="#9a9a9a" stroke-width="0.45" />
<line x1="256.50" y1="272.37" x2="378.50" y2="272.37" stroke="#9a9a9a" stroke-width="0.45" />
<line x1="256.50" y1="284.46" x2="378.50" y2="284.46" stroke="#9a9a9a" stroke-width="0.45" />
<line x1="256.50" y1="296.55" x2="378.50" y2="296.55" stroke="#9a9a9a" stroke-width="0.45" />
<line x1="256.50" y1="308.63" x2="378.50" y2="308.63" stroke="#9a9a9a" stroke-width="0.45" />
<line x1="256.50" y1="320.72" x2="378.50" y2="320.72" stroke="#9a9a9a" stroke-width="0.45" />
<line x1="256.50" y1="332.81" x2="378.50" y2="332.81" stroke="#9a9a9a" stroke-width="0.45" />
<line x1="256.50" y1="344.90" x2="378.50" y2="344.90" stroke="#9a9a9a" stroke-width="0.45" />
<line x1="256.50" y1="356.98" x2="378.50" y2="356.98" stroke="#9a9a9a" stroke-width="0.45" />
<line x1="256.50" y1="369.07" x2="378.50" y2="369.07" stroke="#9a9a9a" stroke-width="0.45" />
<line x1="256.50" y1="381.16" x2="378.50" y2="381.16" stroke="#9a9a9a" stroke-width="0.45" />
<line x1="256.50" y1="393.24" x2="378.50" y2="393.24" stroke="#9a9a9a" stroke-width="0.45" />
<line x1="256.50" y1="405.33" x2="378.50" y2="405.33" stroke="#9a9a9a" stroke-width="0.45" />
<line x1="256.50" y1="417.42" x2="378.50" y2="417.42" stroke="#9a9a9a" stroke-width="0.45" />
<line x1="256.50" y1="429.50" x2="378.50" y2="429.50" stroke="#9a9a9a" stroke-width="0.45" />
<line x1="256.50" y1="441.59" x2="378.50" y2="441.59" stroke="#9a9a9a" stroke-width="0.45" />
<line x1="256.50" y1="453.68" x2="378.50" y2="453.68" stroke="#9a9a9a" stroke-width="0.45" />
<line x1="256.50" y1="465.77" x2="378.50" y2="465.77" stroke="#9a9a9a" stroke-width="0.45" />
<line x1="256.50" y1="477.85" x2="378.50" y2="477.85" stroke="#9a9a9a" stroke-width="0.45" />
<line x1="256.50" y1="489.94" x2="378.50" y2="489.94" stroke="#9a9a9a" stroke-width="0.45" />
<line x1="256.50" y1="502.03" x2="378.50" y2="502.03" stroke="#9a9a9a" stroke-width="0.45" />
<line x1="256.50" y1="514.11" x2="378.50" y2="514.11" stroke="#9a9a9a" stroke-width="0.45" />
<line x1="256.50" y1="526.20" x2="378.50" y2="526.20" stroke="#9a9a9a" stroke-width="0.45" />
<rect x="256.50" y="248.20" width="122.00" height="278.00" fill="none" stroke="#888" stroke-width="0.7" />
<text x="385.00" y="257.54" font-size="8.0" font-style="italic">Il6st</text>
<text x="385.00" y="269.63" font-size="8.0" font-style="italic">Lbp</text>
<text x="385.00" y="281.72" font-size="8.0" font-style="italic">Il27</text>
<text x="385.00" y="293.80" font-size="8.0" font-style="italic">Tnfsf9</text>
<text x="385.00" y="305.89" font-size="8.0" font-style="italic">Il15</text>
<text x="385.00" y="317.98" font-size="8.0" font-style="italic">Nfkb1</text>
<text x="385.00" y="330.07" font-size="8.0" font-style="italic">Irak2</text>
<text x="385.00" y="342.15" font-size="8.0" font-style="italic">Irf8</text>
<text x="385.00" y="354.24" font-size="8.0" font-style="italic">Ptgs2</text>
<text x="385.00" y="366.33" font-size="8.0" font-style="italic">Il6</text>
<text x="385.00" y="378.41" font-size="8.0" font-style="italic">Cxcl9</text>
<text x="385.00" y="390.50" font-size="8.0" font-style="italic">Tnfsf15</text>
<text x="385.00" y="402.59" font-size="8.0" font-style="italic">Cxcl1</text>
<text x="385.00" y="414.67" font-size="8.0" font-style="italic">Arg2</text>
<text x="385.00" y="426.76" font-size="8.0" font-style="italic">Il1a</text>
<text x="385.00" y="438.85" font-size="8.0" font-style="italic">Cxcl10</text>
<text x="385.00" y="450.93" font-size="8.0" font-style="italic">Arg1</text>
<text x="385.00" y="463.02" font-size="8.0" font-style="italic">Mmp8</text>
<text x="385.00" y="475.11" font-size="8.0" font-style="italic">Cd209g</text>
<text x="385.00" y="487.20" font-size="8.0" font-style="italic">Il4</text>
<text x="385.00" y="499.28" font-size="8.0" font-style="italic">Mmp25</text>
<text x="385.00" y="511.37" font-size="8.0" font-style="italic">Mmp9</text>
<text x="385.00" y="523.46" font-size="8.0" font-style="italic">Retnlg</text>
<defs><linearGradient id="cb419" x1="0" y1="1" x2="0" y2="0"><stop offset="0.000" stop-color="#2166AC"/><stop offset="0.111" stop-color="#4393C3"/><stop offset="0.222" stop-color="#92C5DE"/><stop offset="0.333" stop-color="#D1E5F0"/><stop offset="0.444" stop-color="#E8E4E2"/><stop offset="0.556" stop-color="#FDDBC7"/><stop offset="0.667" stop-color="#F4A582"/><stop offset="0.778" stop-color="#D6604D"/><stop offset="0.889" stop-color="#B2182B"/><stop offset="1.000" stop-color="#67001F"/></linearGradient></defs>
<rect x="419.30" y="247.00" width="4.90" height="83.00" fill="url(#cb419)" />
<text x="428.00" y="259.30" font-size="8.6">2</text>
<text x="428.00" y="275.80" font-size="8.6">1</text>
<text x="428.00" y="292.20" font-size="8.6">0</text>
<text x="428.00" y="308.60" font-size="8.6">-1</text>
<text x="428.00" y="325.00" font-size="8.6">-2</text>
<text x="262.85" y="537.40" font-size="8.0" text-anchor="middle">1</text>
<text x="273.94" y="537.40" font-size="8.0" text-anchor="middle">2</text>
<text x="285.03" y="537.40" font-size="8.0" text-anchor="middle">3</text>
<text x="296.12" y="537.40" font-size="8.0" text-anchor="middle">1</text>
<text x="307.21" y="537.40" font-size="8.0" text-anchor="middle">2</text>
<text x="318.30" y="537.40" font-size="8.0" text-anchor="middle">3</text>
<text x="329.39" y="537.40" font-size="8.0" text-anchor="middle">1</text>
<text x="340.48" y="537.40" font-size="8.0" text-anchor="middle">2</text>
<text x="351.57" y="537.40" font-size="8.0" text-anchor="middle">1</text>
<text x="362.66" y="537.40" font-size="8.0" text-anchor="middle">2</text>
<text x="373.75" y="537.40" font-size="8.0" text-anchor="middle">3</text>
<line x1="258.40" y1="542.50" x2="287.60" y2="542.50" stroke="#999" stroke-width="0.7" />
<line x1="292.20" y1="542.50" x2="321.00" y2="542.50" stroke="#999" stroke-width="0.7" />
<line x1="325.90" y1="542.50" x2="344.30" y2="542.50" stroke="#999" stroke-width="0.7" />
<line x1="348.60" y1="542.50" x2="377.10" y2="542.50" stroke="#999" stroke-width="0.7" />
<text x="278.40" y="579.60" font-size="8.9" transform="rotate(-90 278.40 579.60)"><tspan font-style="italic">Zeb1</tspan><tspan dx="2.60" dy="-3.60" font-size="5.60">WT</tspan></text>
<text x="307.80" y="579.60" font-size="8.9" transform="rotate(-90 307.80 579.60)"><tspan font-style="italic">Zeb1</tspan><tspan dx="2.60" dy="-3.60" font-size="5.60">&#916;M</tspan></text>
<text x="337.60" y="579.60" font-size="8.9" transform="rotate(-90 337.60 579.60)"><tspan font-style="italic">Zeb1</tspan><tspan dx="2.60" dy="-3.60" font-size="5.60">WT</tspan></text>
<text x="366.70" y="579.60" font-size="8.9" transform="rotate(-90 366.70 579.60)"><tspan font-style="italic">Zeb1</tspan><tspan dx="2.60" dy="-3.60" font-size="5.60">&#916;M</tspan></text>
<text x="455.50" y="208.40" font-size="18.8">f</text>
<line x1="509.90" y1="354.40" x2="509.90" y2="223.56" stroke="#c4c4c4" stroke-width="1.2" />
<line x1="509.30" y1="354.40" x2="596.00" y2="354.40" stroke="#c4c4c4" stroke-width="1.2" />
<line x1="507.40" y1="354.40" x2="509.90" y2="354.40" stroke="#c4c4c4" stroke-width="0.8" />
<text x="505.30" y="357.67" font-size="9.9" text-anchor="end">0</text>
<line x1="507.40" y1="321.84" x2="509.90" y2="321.84" stroke="#c4c4c4" stroke-width="0.8" />
<text x="505.30" y="325.11" font-size="9.9" text-anchor="end">2</text>
<line x1="507.40" y1="289.28" x2="509.90" y2="289.28" stroke="#c4c4c4" stroke-width="0.8" />
<text x="505.30" y="292.55" font-size="9.9" text-anchor="end">4</text>
<line x1="507.40" y1="256.72" x2="509.90" y2="256.72" stroke="#c4c4c4" stroke-width="0.8" />
<text x="505.30" y="259.99" font-size="9.9" text-anchor="end">6</text>
<line x1="507.40" y1="224.16" x2="509.90" y2="224.16" stroke="#c4c4c4" stroke-width="0.8" />
<text x="505.30" y="227.43" font-size="9.9" text-anchor="end">8</text>
<rect x="514.50" y="341.70" width="9.00" height="12.70" fill="#9dcfee" stroke="#4f6f86" stroke-width="0.6" />
<rect x="523.50" y="343.66" width="8.90" height="10.74" fill="#e0aa60" stroke="#7a6040" stroke-width="0.6" />
<rect x="542.10" y="297.42" width="8.60" height="56.98" fill="#9dcfee" stroke="#4f6f86" stroke-width="0.6" />
<rect x="550.70" y="332.42" width="8.80" height="21.98" fill="#e0aa60" stroke="#7a6040" stroke-width="0.6" />
<rect x="569.00" y="337.47" width="9.10" height="16.93" fill="#9dcfee" stroke="#4f6f86" stroke-width="0.6" />
<rect x="578.10" y="331.28" width="8.70" height="23.12" fill="#e0aa60" stroke="#7a6040" stroke-width="0.6" />
<line x1="519.00" y1="341.70" x2="519.00" y2="340.40" stroke="#444" stroke-width="0.7" />
<line x1="516.40" y1="340.40" x2="521.60" y2="340.40" stroke="#444" stroke-width="0.7" />
<line x1="528.00" y1="343.66" x2="528.00" y2="342.68" stroke="#444" stroke-width="0.7" />
<line x1="525.40" y1="342.68" x2="530.60" y2="342.68" stroke="#444" stroke-width="0.7" />
<line x1="546.40" y1="297.42" x2="546.40" y2="287.65" stroke="#444" stroke-width="0.7" />
<line x1="543.80" y1="287.65" x2="549.00" y2="287.65" stroke="#444" stroke-width="0.7" />
<line x1="555.10" y1="332.42" x2="555.10" y2="328.84" stroke="#444" stroke-width="0.7" />
<line x1="552.50" y1="328.84" x2="557.70" y2="328.84" stroke="#444" stroke-width="0.7" />
<line x1="573.50" y1="337.47" x2="573.50" y2="331.77" stroke="#444" stroke-width="0.7" />
<line x1="570.90" y1="331.77" x2="576.10" y2="331.77" stroke="#444" stroke-width="0.7" />
<line x1="582.50" y1="331.28" x2="582.50" y2="320.70" stroke="#444" stroke-width="0.7" />
<line x1="579.90" y1="320.70" x2="585.10" y2="320.70" stroke="#444" stroke-width="0.7" />
<circle cx="515.60" cy="341.30" r="1.28" fill="#000"/>
<circle cx="519.40" cy="338.70" r="1.28" fill="#000"/>
<circle cx="519.40" cy="344.10" r="1.28" fill="#000"/>
<circle cx="522.20" cy="341.30" r="1.28" fill="#000"/>
<circle cx="524.70" cy="342.00" r="1.28" fill="#000"/>
<circle cx="527.10" cy="342.00" r="1.28" fill="#000"/>
<circle cx="529.60" cy="342.50" r="1.28" fill="#000"/>
<circle cx="531.30" cy="344.10" r="1.28" fill="#000"/>
<circle cx="546.50" cy="250.90" r="1.28" fill="#000"/>
<circle cx="546.50" cy="272.20" r="1.28" fill="#000"/>
<circle cx="546.50" cy="282.10" r="1.28" fill="#000"/>
<circle cx="546.50" cy="300.50" r="1.28" fill="#000"/>
<circle cx="546.50" cy="306.80" r="1.28" fill="#000"/>
<circle cx="546.50" cy="317.00" r="1.28" fill="#000"/>
<circle cx="546.50" cy="320.00" r="1.28" fill="#000"/>
<circle cx="546.50" cy="326.80" r="1.28" fill="#000"/>
<circle cx="552.00" cy="316.00" r="1.28" fill="#000"/>
<circle cx="558.40" cy="316.00" r="1.28" fill="#000"/>
<circle cx="555.10" cy="326.20" r="1.28" fill="#000"/>
<circle cx="555.10" cy="331.40" r="1.28" fill="#000"/>
<circle cx="552.00" cy="338.40" r="1.28" fill="#000"/>
<circle cx="558.40" cy="337.50" r="1.28" fill="#000"/>
<circle cx="555.10" cy="341.60" r="1.28" fill="#000"/>
<circle cx="555.10" cy="348.50" r="1.28" fill="#000"/>
<circle cx="573.70" cy="306.00" r="1.28" fill="#000"/>
<circle cx="573.70" cy="316.30" r="1.28" fill="#000"/>
<circle cx="572.00" cy="333.80" r="1.28" fill="#000"/>
<circle cx="573.70" cy="335.10" r="1.28" fill="#000"/>
<circle cx="575.70" cy="336.70" r="1.28" fill="#000"/>
<circle cx="573.70" cy="339.30" r="1.28" fill="#000"/>
<circle cx="573.70" cy="347.40" r="1.28" fill="#000"/>
<circle cx="570.70" cy="352.50" r="1.28" fill="#000"/>
<circle cx="573.70" cy="351.20" r="1.28" fill="#000"/>
<circle cx="577.00" cy="351.20" r="1.28" fill="#000"/>
<circle cx="582.70" cy="278.30" r="1.28" fill="#000"/>
<circle cx="582.70" cy="314.20" r="1.28" fill="#000"/>
<circle cx="582.70" cy="326.50" r="1.28" fill="#000"/>
<circle cx="579.40" cy="347.40" r="1.28" fill="#000"/>
<circle cx="585.50" cy="345.30" r="1.28" fill="#000"/>
<circle cx="582.70" cy="350.90" r="1.28" fill="#000"/>
<circle cx="582.70" cy="353.20" r="1.28" fill="#000"/>
<path d="M518.40,332.40V329.60H528.30V332.40" stroke="#555" stroke-width="0.7" fill="none" />
<text x="523.35" y="326.80" font-size="8.6" text-anchor="middle">ns</text>
<path d="M546.00,243.80V241.00H555.60V243.80" stroke="#555" stroke-width="0.7" fill="none" />
<text x="550.80" y="242.30" font-size="12.5" text-anchor="middle">**</text>
<path d="M573.50,274.00V271.20H582.70V274.00" stroke="#555" stroke-width="0.7" fill="none" />
<text x="578.10" y="264.50" font-size="8.6" text-anchor="middle">ns</text>
<text x="0" y="0" font-size="9.4" text-anchor="middle" transform="translate(523.60 366.10) scale(0.86 1)">Untr</text>
<line x1="523.60" y1="354.40" x2="523.60" y2="356.80" stroke="#888" stroke-width="0.7" />
<text x="0" y="0" font-size="9.4" text-anchor="middle" transform="translate(550.80 366.10) scale(0.86 1)">LPS</text>
<line x1="550.80" y1="354.40" x2="550.80" y2="356.80" stroke="#888" stroke-width="0.7" />
<text x="0" y="0" font-size="9.4" text-anchor="middle" transform="translate(578.40 366.10) scale(0.86 1)">LPS</text>
<text x="0" y="0" font-size="9.4" text-anchor="middle" transform="translate(578.40 375.10) scale(0.86 1)">LPS</text>
<line x1="578.40" y1="354.40" x2="578.40" y2="356.80" stroke="#888" stroke-width="0.7" />
<line x1="509.40" y1="382.40" x2="595.40" y2="382.40" stroke="#aaa" stroke-width="0.9" />
<text x="551.40" y="397.30" font-size="9.0" text-anchor="middle" font-style="italic">Il6</text>
<text x="487.90" y="289.90" font-size="9.5" text-anchor="middle" transform="rotate(-90 487.90 289.90)">mRNA Relative expression</text>
<rect x="600.30" y="222.90" width="9.00" height="9.00" fill="#9dcfee" stroke="#4f6f86" stroke-width="0.6" />
<rect x="600.30" y="238.30" width="9.00" height="9.00" fill="#e0aa60" stroke="#7a6040" stroke-width="0.6" />
<text x="613.00" y="230.78" font-size="9.4"><tspan font-style="italic">Zeb1</tspan><tspan dx="1.88" dy="-2.82" font-size="5.64">WT</tspan></text>
<text x="613.00" y="246.18" font-size="9.4"><tspan font-style="italic">Zeb1</tspan><tspan dx="1.88" dy="-2.82" font-size="5.64">&#916;M</tspan></text>
<text x="455.50" y="394.80" font-size="18.8">g</text>
<line x1="509.50" y1="540.50" x2="509.50" y2="409.80" stroke="#999999" stroke-width="1.0" />
<line x1="509.00" y1="540.50" x2="596.00" y2="540.50" stroke="#999999" stroke-width="1.0" />
<line x1="507.00" y1="540.50" x2="509.50" y2="540.50" stroke="#999999" stroke-width="0.8" />
<text x="504.90" y="543.77" font-size="9.9" text-anchor="end">0</text>
<line x1="507.00" y1="507.95" x2="509.50" y2="507.95" stroke="#999999" stroke-width="0.8" />
<text x="504.90" y="511.22" font-size="9.9" text-anchor="end">1</text>
<line x1="507.00" y1="475.40" x2="509.50" y2="475.40" stroke="#999999" stroke-width="0.8" />
<text x="504.90" y="478.67" font-size="9.9" text-anchor="end">2</text>
<line x1="507.00" y1="442.85" x2="509.50" y2="442.85" stroke="#999999" stroke-width="0.8" />
<text x="504.90" y="446.12" font-size="9.9" text-anchor="end">3</text>
<line x1="507.00" y1="410.30" x2="509.50" y2="410.30" stroke="#999999" stroke-width="0.8" />
<text x="504.90" y="413.57" font-size="9.9" text-anchor="end">4</text>
<rect x="514.30" y="526.50" width="8.70" height="14.00" fill="#9dcfee" stroke="#4f6f86" stroke-width="0.6" />
<rect x="523.00" y="535.62" width="8.70" height="4.88" fill="#e0aa60" stroke="#7a6040" stroke-width="0.6" />
<rect x="541.40" y="490.70" width="8.90" height="49.80" fill="#9dcfee" stroke="#4f6f86" stroke-width="0.6" />
<rect x="550.30" y="504.37" width="8.90" height="36.13" fill="#e0aa60" stroke="#7a6040" stroke-width="0.6" />
<rect x="569.10" y="494.28" width="8.70" height="46.22" fill="#9dcfee" stroke="#4f6f86" stroke-width="0.6" />
<rect x="577.80" y="531.71" width="8.90" height="8.79" fill="#e0aa60" stroke="#7a6040" stroke-width="0.6" />
<line x1="518.60" y1="526.50" x2="518.60" y2="521.62" stroke="#444" stroke-width="0.7" />
<line x1="516.00" y1="521.62" x2="521.20" y2="521.62" stroke="#444" stroke-width="0.7" />
<line x1="527.30" y1="535.62" x2="527.30" y2="533.34" stroke="#444" stroke-width="0.7" />
<line x1="524.70" y1="533.34" x2="529.90" y2="533.34" stroke="#444" stroke-width="0.7" />
<line x1="545.80" y1="490.70" x2="545.80" y2="484.51" stroke="#444" stroke-width="0.7" />
<line x1="543.20" y1="484.51" x2="548.40" y2="484.51" stroke="#444" stroke-width="0.7" />
<line x1="554.80" y1="504.37" x2="554.80" y2="492.33" stroke="#444" stroke-width="0.7" />
<line x1="552.20" y1="492.33" x2="557.40" y2="492.33" stroke="#444" stroke-width="0.7" />
<line x1="573.50" y1="494.28" x2="573.50" y2="481.91" stroke="#444" stroke-width="0.7" />
<line x1="570.90" y1="481.91" x2="576.10" y2="481.91" stroke="#444" stroke-width="0.7" />
<line x1="582.20" y1="531.71" x2="582.20" y2="526.50" stroke="#444" stroke-width="0.7" />
<line x1="579.60" y1="526.50" x2="584.80" y2="526.50" stroke="#444" stroke-width="0.7" />
<circle cx="518.60" cy="516.30" r="1.28" fill="#000"/>
<circle cx="518.60" cy="526.60" r="1.28" fill="#000"/>
<circle cx="518.60" cy="529.00" r="1.28" fill="#000"/>
<circle cx="524.30" cy="533.60" r="1.28" fill="#000"/>
<circle cx="530.40" cy="533.60" r="1.28" fill="#000"/>
<circle cx="527.60" cy="538.20" r="1.28" fill="#000"/>
<circle cx="546.00" cy="457.20" r="1.28" fill="#000"/>
<circle cx="546.00" cy="485.00" r="1.28" fill="#000"/>
<circle cx="543.10" cy="492.90" r="1.28" fill="#000"/>
<circle cx="546.00" cy="493.80" r="1.28" fill="#000"/>
<circle cx="549.00" cy="490.50" r="1.28" fill="#000"/>
<circle cx="546.00" cy="523.70" r="1.28" fill="#000"/>
<circle cx="554.80" cy="457.20" r="1.28" fill="#000"/>
<circle cx="554.80" cy="486.70" r="1.28" fill="#000"/>
<circle cx="554.80" cy="504.80" r="1.28" fill="#000"/>
<circle cx="554.80" cy="515.60" r="1.28" fill="#000"/>
<circle cx="554.80" cy="526.60" r="1.28" fill="#000"/>
<circle cx="554.80" cy="533.60" r="1.28" fill="#000"/>
<circle cx="573.50" cy="427.50" r="1.28" fill="#000"/>
<circle cx="573.50" cy="476.50" r="1.28" fill="#000"/>
<circle cx="573.50" cy="481.10" r="1.28" fill="#000"/>
<circle cx="573.50" cy="491.60" r="1.28" fill="#000"/>
<circle cx="570.40" cy="511.30" r="1.28" fill="#000"/>
<circle cx="576.50" cy="508.60" r="1.28" fill="#000"/>
<circle cx="573.50" cy="524.20" r="1.28" fill="#000"/>
<circle cx="573.50" cy="529.90" r="1.28" fill="#000"/>
<circle cx="582.20" cy="517.60" r="1.28" fill="#000"/>
<circle cx="582.20" cy="529.40" r="1.28" fill="#000"/>
<circle cx="579.00" cy="539.80" r="1.28" fill="#000"/>
<circle cx="585.20" cy="539.00" r="1.28" fill="#000"/>
<path d="M518.40,510.20V507.40H528.50V510.20" stroke="#555" stroke-width="0.7" fill="none" />
<text x="523.45" y="505.00" font-size="8.6" text-anchor="middle">ns</text>
<path d="M545.60,477.10V474.30H555.10V477.10" stroke="#555" stroke-width="0.7" fill="none" />
<text x="550.35" y="471.80" font-size="8.6" text-anchor="middle">ns</text>
<path d="M573.50,469.40V466.60H582.60V469.40" stroke="#555" stroke-width="0.7" fill="none" />
<text x="578.05" y="467.90" font-size="12.5" text-anchor="middle">*</text>
<text x="0" y="0" font-size="9.4" text-anchor="middle" transform="translate(523.10 550.70) scale(0.86 1)">Untr</text>
<line x1="523.10" y1="540.50" x2="523.10" y2="542.90" stroke="#888" stroke-width="0.7" />
<text x="0" y="0" font-size="9.4" text-anchor="middle" transform="translate(550.40 550.70) scale(0.86 1)">LPS</text>
<line x1="550.40" y1="540.50" x2="550.40" y2="542.90" stroke="#888" stroke-width="0.7" />
<text x="0" y="0" font-size="9.4" text-anchor="middle" transform="translate(578.00 550.70) scale(0.86 1)">LPS</text>
<text x="0" y="0" font-size="9.4" text-anchor="middle" transform="translate(578.00 559.70) scale(0.86 1)">LPS</text>
<line x1="578.00" y1="540.50" x2="578.00" y2="542.90" stroke="#888" stroke-width="0.7" />
<line x1="509.40" y1="567.00" x2="595.40" y2="567.00" stroke="#aaa" stroke-width="0.9" />
<text x="551.40" y="580.60" font-size="9.0" text-anchor="middle" font-style="italic">Il4</text>
<text x="487.90" y="476.20" font-size="9.5" text-anchor="middle" transform="rotate(-90 487.90 476.20)">mRNA Relative expression</text>
<rect x="600.30" y="409.50" width="9.00" height="9.00" fill="#9dcfee" stroke="#4f6f86" stroke-width="0.6" />
<rect x="600.30" y="424.00" width="9.00" height="9.00" fill="#e0aa60" stroke="#7a6040" stroke-width="0.6" />
<text x="613.00" y="417.38" font-size="9.4"><tspan font-style="italic">Zeb1</tspan><tspan dx="1.88" dy="-2.82" font-size="5.64">WT</tspan></text>
<text x="613.00" y="431.88" font-size="9.4"><tspan font-style="italic">Zeb1</tspan><tspan dx="1.88" dy="-2.82" font-size="5.64">&#916;M</tspan></text>
<text x="2.00" y="611.00" font-size="18.8">h</text>
<text x="74.20" y="613.30" font-size="9.6" text-anchor="middle">Glycolytic Genes</text>
<text x="47.30" y="631.20" font-size="8.3" text-anchor="middle">LPS</text>
<text x="105.70" y="631.20" font-size="8.3" text-anchor="middle">LPS LPS</text>
<line x1="14.00" y1="636.10" x2="76.50" y2="636.10" stroke="#aaa" stroke-width="0.9" />
<line x1="80.30" y1="636.10" x2="133.70" y2="636.10" stroke="#aaa" stroke-width="0.9" />
<rect x="13.50" y="640.20" width="11.11" height="12.43" fill="#B51F35" />
<rect x="24.59" y="640.20" width="11.11" height="12.43" fill="#F1DBD0" />
<rect x="35.68" y="640.20" width="11.11" height="12.43" fill="#8E1230" />
<rect x="46.77" y="640.20" width="11.11" height="12.43" fill="#CFE2EC" />
<rect x="57.86" y="640.20" width="11.11" height="12.43" fill="#CFE2EC" />
<rect x="68.95" y="640.20" width="11.11" height="12.43" fill="#E4DDDA" />
<rect x="80.05" y="640.20" width="11.11" height="12.43" fill="#AED4E7" />
<rect x="91.14" y="640.20" width="11.11" height="12.43" fill="#92C6E0" />
<rect x="102.23" y="640.20" width="11.11" height="12.43" fill="#92C6E0" />
<rect x="113.32" y="640.20" width="11.11" height="12.43" fill="#92C6E0" />
<rect x="124.41" y="640.20" width="11.11" height="12.43" fill="#92C6E0" />
<rect x="13.50" y="652.61" width="11.11" height="12.43" fill="#F09C7C" />
<rect x="24.59" y="652.61" width="11.11" height="12.43" fill="#F09C7C" />
<rect x="35.68" y="652.61" width="11.11" height="12.43" fill="#8E1230" />
<rect x="46.77" y="652.61" width="11.11" height="12.43" fill="#F1DBD0" />
<rect x="57.86" y="652.61" width="11.11" height="12.43" fill="#AED4E7" />
<rect x="68.95" y="652.61" width="11.11" height="12.43" fill="#FAD9C6" />
<rect x="80.05" y="652.61" width="11.11" height="12.43" fill="#92C6E0" />
<rect x="91.14" y="652.61" width="11.11" height="12.43" fill="#92C6E0" />
<rect x="102.23" y="652.61" width="11.11" height="12.43" fill="#7DB8DA" />
<rect x="113.32" y="652.61" width="11.11" height="12.43" fill="#5FA3CF" />
<rect x="124.41" y="652.61" width="11.11" height="12.43" fill="#CFE2EC" />
<rect x="13.50" y="665.01" width="11.11" height="12.43" fill="#F09C7C" />
<rect x="24.59" y="665.01" width="11.11" height="12.43" fill="#F09C7C" />
<rect x="35.68" y="665.01" width="11.11" height="12.43" fill="#67001F" />
<rect x="46.77" y="665.01" width="11.11" height="12.43" fill="#CFE2EC" />
<rect x="57.86" y="665.01" width="11.11" height="12.43" fill="#AED4E7" />
<rect x="68.95" y="665.01" width="11.11" height="12.43" fill="#CFE2EC" />
<rect x="80.05" y="665.01" width="11.11" height="12.43" fill="#92C6E0" />
<rect x="91.14" y="665.01" width="11.11" height="12.43" fill="#D9DCDC" />
<rect x="102.23" y="665.01" width="11.11" height="12.43" fill="#92C6E0" />
<rect x="113.32" y="665.01" width="11.11" height="12.43" fill="#92C6E0" />
<rect x="124.41" y="665.01" width="11.11" height="12.43" fill="#7DB8DA" />
<rect x="13.50" y="677.42" width="11.11" height="12.43" fill="#E07860" />
<rect x="24.59" y="677.42" width="11.11" height="12.43" fill="#E07860" />
<rect x="35.68" y="677.42" width="11.11" height="12.43" fill="#F8C0A2" />
<rect x="46.77" y="677.42" width="11.11" height="12.43" fill="#F09C7C" />
<rect x="57.86" y="677.42" width="11.11" height="12.43" fill="#FAD9C6" />
<rect x="68.95" y="677.42" width="11.11" height="12.43" fill="#F09C7C" />
<rect x="80.05" y="677.42" width="11.11" height="12.43" fill="#7DB8DA" />
<rect x="91.14" y="677.42" width="11.11" height="12.43" fill="#7DB8DA" />
<rect x="102.23" y="677.42" width="11.11" height="12.43" fill="#7DB8DA" />
<rect x="113.32" y="677.42" width="11.11" height="12.43" fill="#7DB8DA" />
<rect x="124.41" y="677.42" width="11.11" height="12.43" fill="#7DB8DA" />
<rect x="13.50" y="689.83" width="11.11" height="12.43" fill="#F09C7C" />
<rect x="24.59" y="689.83" width="11.11" height="12.43" fill="#B51F35" />
<rect x="35.68" y="689.83" width="11.11" height="12.43" fill="#E07860" />
<rect x="46.77" y="689.83" width="11.11" height="12.43" fill="#E4DDDA" />
<rect x="57.86" y="689.83" width="11.11" height="12.43" fill="#FAD9C6" />
<rect x="68.95" y="689.83" width="11.11" height="12.43" fill="#F1DBD0" />
<rect x="80.05" y="689.83" width="11.11" height="12.43" fill="#7DB8DA" />
<rect x="91.14" y="689.83" width="11.11" height="12.43" fill="#92C6E0" />
<rect x="102.23" y="689.83" width="11.11" height="12.43" fill="#7DB8DA" />
<rect x="113.32" y="689.83" width="11.11" height="12.43" fill="#92C6E0" />
<rect x="124.41" y="689.83" width="11.11" height="12.43" fill="#92C6E0" />
<rect x="13.50" y="702.23" width="11.11" height="12.43" fill="#D6604F" />
<rect x="24.59" y="702.23" width="11.11" height="12.43" fill="#F09C7C" />
<rect x="35.68" y="702.23" width="11.11" height="12.43" fill="#B51F35" />
<rect x="46.77" y="702.23" width="11.11" height="12.43" fill="#E4DDDA" />
<rect x="57.86" y="702.23" width="11.11" height="12.43" fill="#E4DDDA" />
<rect x="68.95" y="702.23" width="11.11" height="12.43" fill="#FAD9C6" />
<rect x="80.05" y="702.23" width="11.11" height="12.43" fill="#92C6E0" />
<rect x="91.14" y="702.23" width="11.11" height="12.43" fill="#92C6E0" />
<rect x="102.23" y="702.23" width="11.11" height="12.43" fill="#92C6E0" />
<rect x="113.32" y="702.23" width="11.11" height="12.43" fill="#92C6E0" />
<rect x="124.41" y="702.23" width="11.11" height="12.43" fill="#7DB8DA" />
<rect x="13.50" y="714.64" width="11.11" height="12.43" fill="#E07860" />
<rect x="24.59" y="714.64" width="11.11" height="12.43" fill="#F09C7C" />
<rect x="35.68" y="714.64" width="11.11" height="12.43" fill="#E07860" />
<rect x="46.77" y="714.64" width="11.11" height="12.43" fill="#2E7BBA" />
<rect x="57.86" y="714.64" width="11.11" height="12.43" fill="#AED4E7" />
<rect x="68.95" y="714.64" width="11.11" height="12.43" fill="#92C6E0" />
<rect x="80.05" y="714.64" width="11.11" height="12.43" fill="#F09C7C" />
<rect x="91.14" y="714.64" width="11.11" height="12.43" fill="#E4DDDA" />
<rect x="102.23" y="714.64" width="11.11" height="12.43" fill="#92C6E0" />
<rect x="113.32" y="714.64" width="11.11" height="12.43" fill="#E4DDDA" />
<rect x="124.41" y="714.64" width="11.11" height="12.43" fill="#92C6E0" />
<rect x="13.50" y="727.05" width="11.11" height="12.43" fill="#F8C0A2" />
<rect x="24.59" y="727.05" width="11.11" height="12.43" fill="#92C6E0" />
<rect x="35.68" y="727.05" width="11.11" height="12.43" fill="#F8C0A2" />
<rect x="46.77" y="727.05" width="11.11" height="12.43" fill="#2E7BBA" />
<rect x="57.86" y="727.05" width="11.11" height="12.43" fill="#2E7BBA" />
<rect x="68.95" y="727.05" width="11.11" height="12.43" fill="#7DB8DA" />
<rect x="80.05" y="727.05" width="11.11" height="12.43" fill="#F8C0A2" />
<rect x="91.14" y="727.05" width="11.11" height="12.43" fill="#E07860" />
<rect x="102.23" y="727.05" width="11.11" height="12.43" fill="#E4DDDA" />
<rect x="113.32" y="727.05" width="11.11" height="12.43" fill="#F8C0A2" />
<rect x="124.41" y="727.05" width="11.11" height="12.43" fill="#F1DBD0" />
<rect x="13.50" y="739.45" width="11.11" height="12.43" fill="#FAD9C6" />
<rect x="24.59" y="739.45" width="11.11" height="12.43" fill="#FAD9C6" />
<rect x="35.68" y="739.45" width="11.11" height="12.43" fill="#F8C0A2" />
<rect x="46.77" y="739.45" width="11.11" height="12.43" fill="#3A86BF" />
<rect x="57.86" y="739.45" width="11.11" height="12.43" fill="#3A86BF" />
<rect x="68.95" y="739.45" width="11.11" height="12.43" fill="#7DB8DA" />
<rect x="80.05" y="739.45" width="11.11" height="12.43" fill="#E07860" />
<rect x="91.14" y="739.45" width="11.11" height="12.43" fill="#E07860" />
<rect x="102.23" y="739.45" width="11.11" height="12.43" fill="#E4DDDA" />
<rect x="113.32" y="739.45" width="11.11" height="12.43" fill="#92C6E0" />
<rect x="124.41" y="739.45" width="11.11" height="12.43" fill="#92C6E0" />
<rect x="13.50" y="751.86" width="11.11" height="12.43" fill="#92C6E0" />
<rect x="24.59" y="751.86" width="11.11" height="12.43" fill="#AED4E7" />
<rect x="35.68" y="751.86" width="11.11" height="12.43" fill="#92C6E0" />
<rect x="46.77" y="751.86" width="11.11" height="12.43" fill="#92C6E0" />
<rect x="57.86" y="751.86" width="11.11" height="12.43" fill="#92C6E0" />
<rect x="68.95" y="751.86" width="11.11" height="12.43" fill="#92C6E0" />
<rect x="80.05" y="751.86" width="11.11" height="12.43" fill="#B51F35" />
<rect x="91.14" y="751.86" width="11.11" height="12.43" fill="#AED4E7" />
<rect x="102.23" y="751.86" width="11.11" height="12.43" fill="#D6604F" />
<rect x="113.32" y="751.86" width="11.11" height="12.43" fill="#E07860" />
<rect x="124.41" y="751.86" width="11.11" height="12.43" fill="#FAD9C6" />
<rect x="13.50" y="764.27" width="11.11" height="12.43" fill="#E4DDDA" />
<rect x="24.59" y="764.27" width="11.11" height="12.43" fill="#AED4E7" />
<rect x="35.68" y="764.27" width="11.11" height="12.43" fill="#92C6E0" />
<rect x="46.77" y="764.27" width="11.11" height="12.43" fill="#3A86BF" />
<rect x="57.86" y="764.27" width="11.11" height="12.43" fill="#7DB8DA" />
<rect x="68.95" y="764.27" width="11.11" height="12.43" fill="#92C6E0" />
<rect x="80.05" y="764.27" width="11.11" height="12.43" fill="#D6604F" />
<rect x="91.14" y="764.27" width="11.11" height="12.43" fill="#F8C0A2" />
<rect x="102.23" y="764.27" width="11.11" height="12.43" fill="#CD4B44" />
<rect x="113.32" y="764.27" width="11.11" height="12.43" fill="#F8C0A2" />
<rect x="124.41" y="764.27" width="11.11" height="12.43" fill="#AED4E7" />
<rect x="13.50" y="776.67" width="11.11" height="12.43" fill="#AED4E7" />
<rect x="24.59" y="776.67" width="11.11" height="12.43" fill="#92C6E0" />
<rect x="35.68" y="776.67" width="11.11" height="12.43" fill="#92C6E0" />
<rect x="46.77" y="776.67" width="11.11" height="12.43" fill="#5FA3CF" />
<rect x="57.86" y="776.67" width="11.11" height="12.43" fill="#5FA3CF" />
<rect x="68.95" y="776.67" width="11.11" height="12.43" fill="#92C6E0" />
<rect x="80.05" y="776.67" width="11.11" height="12.43" fill="#FAD9C6" />
<rect x="91.14" y="776.67" width="11.11" height="12.43" fill="#D6604F" />
<rect x="102.23" y="776.67" width="11.11" height="12.43" fill="#E07860" />
<rect x="113.32" y="776.67" width="11.11" height="12.43" fill="#F8C0A2" />
<rect x="124.41" y="776.67" width="11.11" height="12.43" fill="#FAD9C6" />
<rect x="13.50" y="789.08" width="11.11" height="12.43" fill="#CFE2EC" />
<rect x="24.59" y="789.08" width="11.11" height="12.43" fill="#92C6E0" />
<rect x="35.68" y="789.08" width="11.11" height="12.43" fill="#92C6E0" />
<rect x="46.77" y="789.08" width="11.11" height="12.43" fill="#3A86BF" />
<rect x="57.86" y="789.08" width="11.11" height="12.43" fill="#7DB8DA" />
<rect x="68.95" y="789.08" width="11.11" height="12.43" fill="#92C6E0" />
<rect x="80.05" y="789.08" width="11.11" height="12.43" fill="#F8C0A2" />
<rect x="91.14" y="789.08" width="11.11" height="12.43" fill="#E07860" />
<rect x="102.23" y="789.08" width="11.11" height="12.43" fill="#CD4B44" />
<rect x="113.32" y="789.08" width="11.11" height="12.43" fill="#F8C0A2" />
<rect x="124.41" y="789.08" width="11.11" height="12.43" fill="#E4DDDA" />
<rect x="13.50" y="801.49" width="11.11" height="12.43" fill="#CFE2EC" />
<rect x="24.59" y="801.49" width="11.11" height="12.43" fill="#92C6E0" />
<rect x="35.68" y="801.49" width="11.11" height="12.43" fill="#92C6E0" />
<rect x="46.77" y="801.49" width="11.11" height="12.43" fill="#3A86BF" />
<rect x="57.86" y="801.49" width="11.11" height="12.43" fill="#7DB8DA" />
<rect x="68.95" y="801.49" width="11.11" height="12.43" fill="#7DB8DA" />
<rect x="80.05" y="801.49" width="11.11" height="12.43" fill="#E07860" />
<rect x="91.14" y="801.49" width="11.11" height="12.43" fill="#F09C7C" />
<rect x="102.23" y="801.49" width="11.11" height="12.43" fill="#F09C7C" />
<rect x="113.32" y="801.49" width="11.11" height="12.43" fill="#F8C0A2" />
<rect x="124.41" y="801.49" width="11.11" height="12.43" fill="#FAD9C6" />
<rect x="13.50" y="813.89" width="11.11" height="12.43" fill="#92C6E0" />
<rect x="24.59" y="813.89" width="11.11" height="12.43" fill="#7DB8DA" />
<rect x="35.68" y="813.89" width="11.11" height="12.43" fill="#92C6E0" />
<rect x="46.77" y="813.89" width="11.11" height="12.43" fill="#5FA3CF" />
<rect x="57.86" y="813.89" width="11.11" height="12.43" fill="#7DB8DA" />
<rect x="68.95" y="813.89" width="11.11" height="12.43" fill="#7DB8DA" />
<rect x="80.05" y="813.89" width="11.11" height="12.43" fill="#F8C0A2" />
<rect x="91.14" y="813.89" width="11.11" height="12.43" fill="#F09C7C" />
<rect x="102.23" y="813.89" width="11.11" height="12.43" fill="#D6604F" />
<rect x="113.32" y="813.89" width="11.11" height="12.43" fill="#F09C7C" />
<rect x="124.41" y="813.89" width="11.11" height="12.43" fill="#F8C0A2" />
<line x1="13.50" y1="640.20" x2="13.50" y2="826.30" stroke="#9a9a9a" stroke-width="0.45" />
<line x1="24.59" y1="640.20" x2="24.59" y2="826.30" stroke="#9a9a9a" stroke-width="0.45" />
<line x1="35.68" y1="640.20" x2="35.68" y2="826.30" stroke="#9a9a9a" stroke-width="0.45" />
<line x1="46.77" y1="640.20" x2="46.77" y2="826.30" stroke="#9a9a9a" stroke-width="0.45" />
<line x1="57.86" y1="640.20" x2="57.86" y2="826.30" stroke="#9a9a9a" stroke-width="0.45" />
<line x1="68.95" y1="640.20" x2="68.95" y2="826.30" stroke="#9a9a9a" stroke-width="0.45" />
<line x1="80.05" y1="640.20" x2="80.05" y2="826.30" stroke="#9a9a9a" stroke-width="0.45" />
<line x1="91.14" y1="640.20" x2="91.14" y2="826.30" stroke="#9a9a9a" stroke-width="0.45" />
<line x1="102.23" y1="640.20" x2="102.23" y2="826.30" stroke="#9a9a9a" stroke-width="0.45" />
<line x1="113.32" y1="640.20" x2="113.32" y2="826.30" stroke="#9a9a9a" stroke-width="0.45" />
<line x1="124.41" y1="640.20" x2="124.41" y2="826.30" stroke="#9a9a9a" stroke-width="0.45" />
<line x1="135.50" y1="640.20" x2="135.50" y2="826.30" stroke="#9a9a9a" stroke-width="0.45" />
<line x1="13.50" y1="640.20" x2="135.50" y2="640.20" stroke="#9a9a9a" stroke-width="0.45" />
<line x1="13.50" y1="652.61" x2="135.50" y2="652.61" stroke="#9a9a9a" stroke-width="0.45" />
<line x1="13.50" y1="665.01" x2="135.50" y2="665.01" stroke="#9a9a9a" stroke-width="0.45" />
<line x1="13.50" y1="677.42" x2="135.50" y2="677.42" stroke="#9a9a9a" stroke-width="0.45" />
<line x1="13.50" y1="689.83" x2="135.50" y2="689.83" stroke="#9a9a9a" stroke-width="0.45" />
<line x1="13.50" y1="702.23" x2="135.50" y2="702.23" stroke="#9a9a9a" stroke-width="0.45" />
<line x1="13.50" y1="714.64" x2="135.50" y2="714.64" stroke="#9a9a9a" stroke-width="0.45" />
<line x1="13.50" y1="727.05" x2="135.50" y2="727.05" stroke="#9a9a9a" stroke-width="0.45" />
<line x1="13.50" y1="739.45" x2="135.50" y2="739.45" stroke="#9a9a9a" stroke-width="0.45" />
<line x1="13.50" y1="751.86" x2="135.50" y2="751.86" stroke="#9a9a9a" stroke-width="0.45" />
<line x1="13.50" y1="764.27" x2="135.50" y2="764.27" stroke="#9a9a9a" stroke-width="0.45" />
<line x1="13.50" y1="776.67" x2="135.50" y2="776.67" stroke="#9a9a9a" stroke-width="0.45" />
<line x1="13.50" y1="789.08" x2="135.50" y2="789.08" stroke="#9a9a9a" stroke-width="0.45" />
<line x1="13.50" y1="801.49" x2="135.50" y2="801.49" stroke="#9a9a9a" stroke-width="0.45" />
<line x1="13.50" y1="813.89" x2="135.50" y2="813.89" stroke="#9a9a9a" stroke-width="0.45" />
<line x1="13.50" y1="826.30" x2="135.50" y2="826.30" stroke="#9a9a9a" stroke-width="0.45" />
<rect x="13.50" y="640.20" width="122.00" height="186.10" fill="none" stroke="#888" stroke-width="0.7" />
<text x="142.20" y="649.70" font-size="8.0" font-style="italic">Phgdh</text>
<text x="142.20" y="662.11" font-size="8.0" font-style="italic">Hk3</text>
<text x="142.20" y="674.52" font-size="8.0" font-style="italic">Myc</text>
<text x="142.20" y="686.92" font-size="8.0" font-style="italic">Pfkm</text>
<text x="142.20" y="699.33" font-size="8.0" font-style="italic">Hk2</text>
<text x="142.20" y="711.74" font-size="8.0" font-style="italic">Pdk3</text>
<text x="142.20" y="724.14" font-size="8.0" font-style="italic">Slc16a1</text>
<text x="142.20" y="736.55" font-size="8.0" font-style="italic">Slc2a1</text>
<text x="142.20" y="748.96" font-size="8.0" font-style="italic">Pfkp</text>
<text x="142.20" y="761.36" font-size="8.0" font-style="italic">Eno2</text>
<text x="142.20" y="773.77" font-size="8.0" font-style="italic">Gapdh</text>
<text x="142.20" y="786.18" font-size="8.0" font-style="italic">Pkm</text>
<text x="142.20" y="798.58" font-size="8.0" font-style="italic">Ldha</text>
<text x="142.20" y="810.99" font-size="8.0" font-style="italic">Pgam1</text>
<text x="142.20" y="823.40" font-size="8.0" font-style="italic">Slc16a3</text>
<defs><linearGradient id="cb178" x1="0" y1="1" x2="0" y2="0"><stop offset="0.000" stop-color="#2166AC"/><stop offset="0.111" stop-color="#4393C3"/><stop offset="0.222" stop-color="#92C5DE"/><stop offset="0.333" stop-color="#D1E5F0"/><stop offset="0.444" stop-color="#E8E4E2"/><stop offset="0.556" stop-color="#FDDBC7"/><stop offset="0.667" stop-color="#F4A582"/><stop offset="0.778" stop-color="#D6604D"/><stop offset="0.889" stop-color="#B2182B"/><stop offset="1.000" stop-color="#67001F"/></linearGradient></defs>
<rect x="178.00" y="647.00" width="5.00" height="83.70" fill="url(#cb178)" />
<text x="186.20" y="660.00" font-size="8.6">2</text>
<text x="186.20" y="676.40" font-size="8.6">1</text>
<text x="186.20" y="693.00" font-size="8.6">0</text>
<text x="186.20" y="710.00" font-size="8.6">-1</text>
<text x="186.20" y="725.00" font-size="8.6">-2</text>
<text x="19.85" y="838.40" font-size="8.0" text-anchor="middle">1</text>
<text x="30.94" y="838.40" font-size="8.0" text-anchor="middle">2</text>
<text x="42.03" y="838.40" font-size="8.0" text-anchor="middle">3</text>
<text x="53.12" y="838.40" font-size="8.0" text-anchor="middle">1</text>
<text x="64.21" y="838.40" font-size="8.0" text-anchor="middle">2</text>
<text x="75.30" y="838.40" font-size="8.0" text-anchor="middle">3</text>
<text x="86.39" y="838.40" font-size="8.0" text-anchor="middle">1</text>
<text x="97.48" y="838.40" font-size="8.0" text-anchor="middle">2</text>
<text x="108.57" y="838.40" font-size="8.0" text-anchor="middle">1</text>
<text x="119.66" y="838.40" font-size="8.0" text-anchor="middle">2</text>
<text x="130.75" y="838.40" font-size="8.0" text-anchor="middle">3</text>
<line x1="16.60" y1="843.00" x2="45.80" y2="843.00" stroke="#999" stroke-width="0.7" />
<line x1="49.60" y1="843.00" x2="78.80" y2="843.00" stroke="#999" stroke-width="0.7" />
<line x1="83.80" y1="843.00" x2="102.20" y2="843.00" stroke="#999" stroke-width="0.7" />
<line x1="106.60" y1="843.00" x2="135.20" y2="843.00" stroke="#999" stroke-width="0.7" />
<text x="37.00" y="880.00" font-size="8.9" transform="rotate(-90 37.00 880.00)"><tspan font-style="italic">Zeb1</tspan><tspan dx="2.60" dy="-3.60" font-size="5.60">WT</tspan></text>
<text x="66.20" y="880.00" font-size="8.9" transform="rotate(-90 66.20 880.00)"><tspan font-style="italic">Zeb1</tspan><tspan dx="2.60" dy="-3.60" font-size="5.60">&#916;M</tspan></text>
<text x="95.40" y="880.00" font-size="8.9" transform="rotate(-90 95.40 880.00)"><tspan font-style="italic">Zeb1</tspan><tspan dx="2.60" dy="-3.60" font-size="5.60">WT</tspan></text>
<text x="124.60" y="880.00" font-size="8.9" transform="rotate(-90 124.60 880.00)"><tspan font-style="italic">Zeb1</tspan><tspan dx="2.60" dy="-3.60" font-size="5.60">&#916;M</tspan></text>
<text x="218.00" y="611.00" font-size="18.8">i</text>
<rect x="233.30" y="636.40" width="95.50" height="155.30" fill="#eeeeee" stroke="#8a8a8a" stroke-width="0.9" />
<text x="281.05" y="648.30" font-size="7.9" text-anchor="middle">WP Glycolysis</text>
<text x="281.05" y="656.50" font-size="7.9" text-anchor="middle">and Gluconeogenesis</text>
<text x="237.70" y="672.00" font-size="8.1">LPS</text>
<text x="322.80" y="672.00" font-size="8.1" text-anchor="end">LPS</text>
<rect x="245.50" y="677.00" width="74.00" height="75.50" fill="#ffffff" />
<rect x="250.20" y="679.40" width="66.40" height="28.70" fill="#ffffff" stroke="#cfcfcf" stroke-width="0.4" />
<line x1="259.42" y1="679.40" x2="259.42" y2="708.10" stroke="#ececec" stroke-width="0.35" />
<line x1="268.64" y1="679.40" x2="268.64" y2="708.10" stroke="#ececec" stroke-width="0.35" />
<line x1="277.87" y1="679.40" x2="277.87" y2="708.10" stroke="#ececec" stroke-width="0.35" />
<line x1="287.09" y1="679.40" x2="287.09" y2="708.10" stroke="#ececec" stroke-width="0.35" />
<line x1="296.31" y1="679.40" x2="296.31" y2="708.10" stroke="#ececec" stroke-width="0.35" />
<line x1="305.53" y1="679.40" x2="305.53" y2="708.10" stroke="#ececec" stroke-width="0.35" />
<line x1="314.76" y1="679.40" x2="314.76" y2="708.10" stroke="#ececec" stroke-width="0.35" />
<line x1="250.20" y1="683.50" x2="316.60" y2="683.50" stroke="#ececec" stroke-width="0.35" />
<line x1="250.20" y1="687.60" x2="316.60" y2="687.60" stroke="#ececec" stroke-width="0.35" />
<line x1="250.20" y1="691.70" x2="316.60" y2="691.70" stroke="#ececec" stroke-width="0.35" />
<line x1="250.20" y1="695.80" x2="316.60" y2="695.80" stroke="#ececec" stroke-width="0.35" />
<line x1="250.20" y1="699.90" x2="316.60" y2="699.90" stroke="#ececec" stroke-width="0.35" />
<line x1="250.20" y1="704.00" x2="316.60" y2="704.00" stroke="#ececec" stroke-width="0.35" />
<line x1="249.00" y1="679.40" x2="250.20" y2="679.40" stroke="#999" stroke-width="0.3" />
<text x="249.40" y="680.10" font-size="2.0" text-anchor="end" fill="#444">-0.0</text>
<line x1="249.00" y1="683.50" x2="250.20" y2="683.50" stroke="#999" stroke-width="0.3" />
<text x="249.40" y="684.20" font-size="2.0" text-anchor="end" fill="#444">-0.1</text>
<line x1="249.00" y1="687.60" x2="250.20" y2="687.60" stroke="#999" stroke-width="0.3" />
<text x="249.40" y="688.30" font-size="2.0" text-anchor="end" fill="#444">-0.2</text>
<line x1="249.00" y1="691.70" x2="250.20" y2="691.70" stroke="#999" stroke-width="0.3" />
<text x="249.40" y="692.40" font-size="2.0" text-anchor="end" fill="#444">-0.3</text>
<line x1="249.00" y1="695.80" x2="250.20" y2="695.80" stroke="#999" stroke-width="0.3" />
<text x="249.40" y="696.50" font-size="2.0" text-anchor="end" fill="#444">-0.4</text>
<line x1="249.00" y1="699.90" x2="250.20" y2="699.90" stroke="#999" stroke-width="0.3" />
<text x="249.40" y="700.60" font-size="2.0" text-anchor="end" fill="#444">-0.5</text>
<line x1="249.00" y1="704.00" x2="250.20" y2="704.00" stroke="#999" stroke-width="0.3" />
<text x="249.40" y="704.70" font-size="2.0" text-anchor="end" fill="#444">-0.6</text>
<line x1="249.00" y1="708.10" x2="250.20" y2="708.10" stroke="#999" stroke-width="0.3" />
<text x="249.40" y="708.80" font-size="2.0" text-anchor="end" fill="#444">-0.7</text>
<text x="248.10" y="693.75" font-size="2.1" text-anchor="middle" fill="#333" transform="rotate(-90 248.10 693.75)">Enrichment score (ES)</text>
<polyline points="250.20,680.26 251.03,680.94 251.86,680.73 252.69,681.01 253.52,682.04 254.85,680.62 255.68,680.79 256.51,681.37 257.34,681.37 258.17,681.96 259.05,682.18 259.94,683.35 260.82,683.58 261.71,683.30 262.59,683.05 263.48,682.40 264.48,682.56 265.47,682.41 266.22,682.44 266.98,683.49 267.73,683.77 268.48,684.05 269.23,684.45 269.99,685.38 270.74,685.68 271.49,686.40 272.24,686.76 273.00,687.37 273.75,687.58 274.50,688.15 275.25,688.57 276.01,688.80 276.76,689.76 277.54,689.82 278.32,690.65 279.10,691.28 279.88,691.57 280.67,691.73 281.45,692.71 282.23,693.11 283.01,693.28 283.79,693.69 284.57,694.53 285.35,694.69 286.13,695.82 286.92,696.03 287.70,696.55 288.48,696.98 289.26,697.66 290.04,698.34 290.81,698.41 291.57,698.94 292.34,699.57 293.10,699.86 293.87,700.55 294.64,701.00 295.40,701.41 296.17,702.06 296.94,702.45 297.70,702.63 298.47,703.74 299.23,703.78 300.00,704.32 300.83,704.16 301.66,704.38 302.49,704.25 303.32,703.80 304.15,704.09 304.98,704.23 305.81,705.14 306.64,705.00 307.47,705.41 308.30,705.41 309.13,705.54 309.96,705.71 311.29,707.03 312.28,703.76 313.28,700.95 314.61,690.88 315.94,683.70 316.60,679.40" fill="none" stroke="#58c04a" stroke-width="0.9"/>
<rect x="250.20" y="708.10" width="66.40" height="10.00" fill="#ffffff" stroke="#cfcfcf" stroke-width="0.3" />
<line x1="253.52" y1="708.30" x2="253.52" y2="718.10" stroke="#888" stroke-width="0.55" />
<line x1="256.18" y1="708.30" x2="256.18" y2="718.10" stroke="#aaa" stroke-width="0.55" />
<line x1="260.92" y1="708.30" x2="260.92" y2="718.10" stroke="#666" stroke-width="0.55" />
<line x1="261.62" y1="708.30" x2="261.62" y2="718.10" stroke="#444" stroke-width="0.55" />
<line x1="262.71" y1="708.30" x2="262.71" y2="718.10" stroke="#666" stroke-width="0.55" />
<line x1="262.91" y1="708.30" x2="262.91" y2="718.10" stroke="#333" stroke-width="0.55" />
<line x1="263.81" y1="708.30" x2="263.81" y2="718.10" stroke="#444" stroke-width="0.55" />
<line x1="271.45" y1="708.30" x2="271.45" y2="718.10" stroke="#999" stroke-width="0.55" />
<line x1="273.44" y1="708.30" x2="273.44" y2="718.10" stroke="#b5b5b5" stroke-width="0.55" />
<line x1="281.41" y1="708.30" x2="281.41" y2="718.10" stroke="#666" stroke-width="0.55" />
<line x1="283.40" y1="708.30" x2="283.40" y2="718.10" stroke="#777" stroke-width="0.55" />
<line x1="284.73" y1="708.30" x2="284.73" y2="718.10" stroke="#222" stroke-width="0.55" />
<line x1="286.72" y1="708.30" x2="286.72" y2="718.10" stroke="#aaa" stroke-width="0.55" />
<line x1="291.37" y1="708.30" x2="291.37" y2="718.10" stroke="#999" stroke-width="0.55" />
<line x1="295.35" y1="708.30" x2="295.35" y2="718.10" stroke="#aaa" stroke-width="0.55" />
<line x1="300.08" y1="708.30" x2="300.08" y2="718.10" stroke="#999" stroke-width="0.55" />
<line x1="301.07" y1="708.30" x2="301.07" y2="718.10" stroke="#999" stroke-width="0.55" />
<line x1="301.45" y1="708.30" x2="301.45" y2="718.10" stroke="#666" stroke-width="0.55" />
<line x1="302.43" y1="708.30" x2="302.43" y2="718.10" stroke="#888" stroke-width="0.55" />
<line x1="304.65" y1="708.30" x2="304.65" y2="718.10" stroke="#777" stroke-width="0.55" />
<line x1="307.30" y1="708.30" x2="307.30" y2="718.10" stroke="#777" stroke-width="0.55" />
<line x1="309.79" y1="708.30" x2="309.79" y2="718.10" stroke="#555" stroke-width="0.55" />
<line x1="310.23" y1="708.30" x2="310.23" y2="718.10" stroke="#444" stroke-width="0.55" />
<line x1="310.73" y1="708.30" x2="310.73" y2="718.10" stroke="#666" stroke-width="0.55" />
<line x1="311.45" y1="708.30" x2="311.45" y2="718.10" stroke="#444" stroke-width="0.55" />
<line x1="311.64" y1="708.30" x2="311.64" y2="718.10" stroke="#333" stroke-width="0.55" />
<line x1="312.46" y1="708.30" x2="312.46" y2="718.10" stroke="#444" stroke-width="0.55" />
<line x1="312.95" y1="708.30" x2="312.95" y2="718.10" stroke="#333" stroke-width="0.55" />
<line x1="314.91" y1="708.30" x2="314.91" y2="718.10" stroke="#111" stroke-width="0.55" />
<line x1="315.11" y1="708.30" x2="315.11" y2="718.10" stroke="#333" stroke-width="0.55" />
<line x1="315.84" y1="708.30" x2="315.84" y2="718.10" stroke="#000" stroke-width="0.55" />
<rect x="250.20" y="717.60" width="13.33" height="3.50" fill="#e8353d" />
<rect x="263.48" y="717.60" width="8.68" height="3.50" fill="#ee6c75" />
<rect x="272.11" y="717.60" width="7.35" height="3.50" fill="#eb9bc0" />
<rect x="279.42" y="717.60" width="6.03" height="3.50" fill="#e8b6d2" />
<rect x="285.39" y="717.60" width="7.35" height="3.50" fill="#cdcbeb" />
<rect x="292.70" y="717.60" width="7.35" height="3.50" fill="#b2b2e0" />
<rect x="300.00" y="717.60" width="8.02" height="3.50" fill="#4f5ab2" />
<rect x="307.97" y="717.60" width="8.68" height="3.50" fill="#2e3c9e" />
<text x="251.20" y="723.10" font-size="2.0" fill="#e8353d">'na_pos' (positively correlated)</text>
<rect x="250.20" y="720.90" width="66.40" height="19.50" fill="#ffffff" stroke="#cfcfcf" stroke-width="0.3" />
<line x1="250.20" y1="724.80" x2="316.60" y2="724.80" stroke="#efefef" stroke-width="0.3" />
<line x1="250.20" y1="728.70" x2="316.60" y2="728.70" stroke="#efefef" stroke-width="0.3" />
<line x1="250.20" y1="732.60" x2="316.60" y2="732.60" stroke="#efefef" stroke-width="0.3" />
<line x1="250.20" y1="736.50" x2="316.60" y2="736.50" stroke="#efefef" stroke-width="0.3" />
<path d="M250.20,728.50 L250.20,724.32 C252.86,726.62 262.15,728.00 278.09,728.50 L284.73,728.50 C303.32,729.21 313.94,732.07 316.60,737.43 L316.60,728.50 Z" stroke="none" stroke-width="0" fill="#a9a9a9" />
<line x1="250.20" y1="728.50" x2="316.60" y2="728.50" stroke="#9a9a9a" stroke-width="0.3" />
<text x="283.40" y="731.11" font-size="2.0" text-anchor="middle" fill="#333">Zero cross at 8366</text>
<text x="314.60" y="739.20" font-size="2.0" text-anchor="end" fill="#2e3c9e">'na_neg' (negatively correlated)</text>
<text x="248.10" y="730.65" font-size="2.0" text-anchor="middle" fill="#333" transform="rotate(-90 248.10 730.65)">Ranked list metric (Preranked)</text>
<text x="250.20" y="742.60" font-size="1.9" text-anchor="middle" fill="#444">0</text>
<text x="259.42" y="742.60" font-size="1.9" text-anchor="middle" fill="#444">2,000</text>
<text x="268.64" y="742.60" font-size="1.9" text-anchor="middle" fill="#444">4,000</text>
<text x="277.87" y="742.60" font-size="1.9" text-anchor="middle" fill="#444">6,000</text>
<text x="287.09" y="742.60" font-size="1.9" text-anchor="middle" fill="#444">8,000</text>
<text x="296.31" y="742.60" font-size="1.9" text-anchor="middle" fill="#444">10,000</text>
<text x="305.53" y="742.60" font-size="1.9" text-anchor="middle" fill="#444">12,000</text>
<text x="314.76" y="742.60" font-size="1.9" text-anchor="middle" fill="#444">14,000</text>
<text x="283.40" y="745.00" font-size="2.3" text-anchor="middle" fill="#333">Rank in Ordered Dataset</text>
<rect x="252.00" y="747.30" width="57.20" height="3.90" fill="#ffffff" stroke="#666" stroke-width="0.4" />
<line x1="253.00" y1="749.25" x2="255.00" y2="749.25" stroke="#5cbf4c" stroke-width="0.6" />
<text x="255.50" y="749.95" font-size="2.0" fill="#333">Enrichment profile  — Hits    — Ranking metric scores</text>
<text x="237.90" y="763.90" font-size="8.3" fill="#d69a3e"><tspan font-style="italic">Zeb1</tspan><tspan dx="1.66" dy="-2.49" font-size="4.98">&#916;M</tspan></text>
<text x="323.80" y="763.90" font-size="8.3" text-anchor="end" fill="#6fb8e6"><tspan font-style="italic">Zeb1</tspan><tspan dx="1.6" dy="-2.6" font-size="5.0">WT</tspan></text>
<text x="237.90" y="775.10" font-size="7.8">NES</text>
<text x="326.60" y="775.10" font-size="7.8" text-anchor="end">- 1.93</text>
<text x="237.90" y="785.30" font-size="7.8">Nominal <tspan font-style="italic">p</tspan> value</text>
<text x="325.90" y="785.30" font-size="7.8" text-anchor="end">0.01</text>
<text x="358.00" y="611.00" font-size="18.8">j</text>
<line x1="394.50" y1="790.50" x2="394.50" y2="660.85" stroke="#999999" stroke-width="1.0" />
<line x1="394.00" y1="790.50" x2="481.00" y2="790.50" stroke="#999999" stroke-width="1.0" />
<line x1="392.00" y1="790.50" x2="394.50" y2="790.50" stroke="#999999" stroke-width="0.8" />
<text x="0" y="0" font-size="9.8" text-anchor="end" transform="translate(389.90 793.73) scale(0.87 1)">0</text>
<line x1="392.00" y1="747.45" x2="394.50" y2="747.45" stroke="#999999" stroke-width="0.8" />
<text x="0" y="0" font-size="9.8" text-anchor="end" transform="translate(389.90 750.68) scale(0.87 1)">0.5</text>
<line x1="392.00" y1="704.40" x2="394.50" y2="704.40" stroke="#999999" stroke-width="0.8" />
<text x="0" y="0" font-size="9.8" text-anchor="end" transform="translate(389.90 707.63) scale(0.87 1)">1.0</text>
<line x1="392.00" y1="661.35" x2="394.50" y2="661.35" stroke="#999999" stroke-width="0.8" />
<text x="0" y="0" font-size="9.8" text-anchor="end" transform="translate(389.90 664.58) scale(0.87 1)">1.5</text>
<rect x="399.20" y="779.39" width="8.80" height="11.11" fill="#9dcfee" stroke="#4f6f86" stroke-width="0.6" />
<rect x="408.00" y="778.27" width="8.70" height="12.23" fill="#e0aa60" stroke="#7a6040" stroke-width="0.6" />
<rect x="426.50" y="714.30" width="9.30" height="76.20" fill="#9dcfee" stroke="#4f6f86" stroke-width="0.6" />
<rect x="435.80" y="782.32" width="8.50" height="8.18" fill="#e0aa60" stroke="#7a6040" stroke-width="0.6" />
<rect x="454.00" y="751.75" width="8.80" height="38.74" fill="#9dcfee" stroke="#4f6f86" stroke-width="0.6" />
<rect x="462.80" y="775.52" width="8.70" height="14.98" fill="#e0aa60" stroke="#7a6040" stroke-width="0.6" />
<line x1="403.60" y1="779.39" x2="403.60" y2="774.31" stroke="#444" stroke-width="0.7" />
<line x1="401.00" y1="774.31" x2="406.20" y2="774.31" stroke="#444" stroke-width="0.7" />
<line x1="412.30" y1="778.27" x2="412.30" y2="775.52" stroke="#444" stroke-width="0.7" />
<line x1="409.70" y1="775.52" x2="414.90" y2="775.52" stroke="#444" stroke-width="0.7" />
<line x1="431.10" y1="714.30" x2="431.10" y2="705.69" stroke="#444" stroke-width="0.7" />
<line x1="428.50" y1="705.69" x2="433.70" y2="705.69" stroke="#444" stroke-width="0.7" />
<line x1="440.00" y1="782.32" x2="440.00" y2="778.27" stroke="#444" stroke-width="0.7" />
<line x1="437.40" y1="778.27" x2="442.60" y2="778.27" stroke="#444" stroke-width="0.7" />
<line x1="458.40" y1="751.75" x2="458.40" y2="742.63" stroke="#444" stroke-width="0.7" />
<line x1="455.80" y1="742.63" x2="461.00" y2="742.63" stroke="#444" stroke-width="0.7" />
<line x1="467.10" y1="775.52" x2="467.10" y2="773.54" stroke="#444" stroke-width="0.7" />
<line x1="464.50" y1="773.54" x2="469.70" y2="773.54" stroke="#444" stroke-width="0.7" />
<circle cx="403.80" cy="768.30" r="1.28" fill="#000"/>
<circle cx="403.80" cy="774.90" r="1.28" fill="#000"/>
<circle cx="403.80" cy="782.90" r="1.28" fill="#000"/>
<circle cx="403.80" cy="789.20" r="1.28" fill="#000"/>
<circle cx="412.70" cy="772.60" r="1.28" fill="#000"/>
<circle cx="412.70" cy="778.10" r="1.28" fill="#000"/>
<circle cx="412.70" cy="782.90" r="1.28" fill="#000"/>
<circle cx="431.00" cy="698.70" r="1.28" fill="#000"/>
<circle cx="431.00" cy="703.90" r="1.28" fill="#000"/>
<circle cx="431.00" cy="708.20" r="1.28" fill="#000"/>
<circle cx="431.00" cy="712.50" r="1.28" fill="#000"/>
<circle cx="431.00" cy="746.30" r="1.28" fill="#000"/>
<circle cx="439.70" cy="772.10" r="1.28" fill="#000"/>
<circle cx="436.50" cy="781.30" r="1.28" fill="#000"/>
<circle cx="442.90" cy="783.40" r="1.28" fill="#000"/>
<circle cx="439.70" cy="790.00" r="1.28" fill="#000"/>
<circle cx="458.30" cy="717.30" r="1.28" fill="#000"/>
<circle cx="458.30" cy="750.00" r="1.28" fill="#000"/>
<circle cx="458.30" cy="755.40" r="1.28" fill="#000"/>
<circle cx="458.30" cy="764.60" r="1.28" fill="#000"/>
<circle cx="458.30" cy="770.60" r="1.28" fill="#000"/>
<circle cx="463.90" cy="772.60" r="1.28" fill="#000"/>
<circle cx="470.20" cy="774.10" r="1.28" fill="#000"/>
<circle cx="467.00" cy="778.10" r="1.28" fill="#000"/>
<path d="M403.40,678.40V675.60H430.00V678.40" stroke="#555" stroke-width="0.7" fill="none" />
<text x="417.00" y="676.90" font-size="12.5" text-anchor="middle">*</text>
<path d="M431.20,678.40V675.60H458.60V678.40" stroke="#555" stroke-width="0.7" fill="none" />
<text x="445.10" y="676.90" font-size="12.5" text-anchor="middle">*</text>
<path d="M430.50,692.00V689.20H440.50V692.00" stroke="#555" stroke-width="0.7" fill="none" />
<text x="435.50" y="690.50" font-size="12.5" text-anchor="middle">*</text>
<path d="M458.60,735.20V732.40H467.50V735.20" stroke="#555" stroke-width="0.7" fill="none" />
<text x="463.05" y="733.70" font-size="12.5" text-anchor="middle">*</text>
<path d="M403.20,761.40V758.60H412.70V761.40" stroke="#555" stroke-width="0.7" fill="none" />
<text x="407.95" y="755.90" font-size="8.6" text-anchor="middle">ns</text>
<text x="0" y="0" font-size="9.4" text-anchor="middle" transform="translate(408.10 802.60) scale(0.86 1)">Untr</text>
<line x1="408.10" y1="790.50" x2="408.10" y2="792.90" stroke="#888" stroke-width="0.7" />
<text x="0" y="0" font-size="9.4" text-anchor="middle" transform="translate(435.80 802.60) scale(0.86 1)">LPS</text>
<line x1="435.80" y1="790.50" x2="435.80" y2="792.90" stroke="#888" stroke-width="0.7" />
<text x="0" y="0" font-size="9.4" text-anchor="middle" transform="translate(463.30 802.60) scale(0.86 1)">LPS</text>
<text x="0" y="0" font-size="9.4" text-anchor="middle" transform="translate(463.30 811.90) scale(0.86 1)">LPS</text>
<line x1="463.30" y1="790.50" x2="463.30" y2="792.90" stroke="#888" stroke-width="0.7" />
<line x1="395.20" y1="819.40" x2="481.10" y2="819.40" stroke="#aaa" stroke-width="0.9" />
<text x="440.60" y="835.00" font-size="9.0" text-anchor="middle" font-style="italic">Slc2a1</text>
<text x="369.50" y="727.50" font-size="9.5" text-anchor="middle" transform="rotate(-90 369.50 727.50)">mRNA Relative expression</text>
<rect x="408.50" y="618.70" width="9.20" height="9.20" fill="#9dcfee" stroke="#4f6f86" stroke-width="0.6" />
<rect x="408.50" y="633.80" width="9.20" height="9.20" fill="#e0aa60" stroke="#7a6040" stroke-width="0.6" />
<text x="422.00" y="626.68" font-size="9.4"><tspan font-style="italic">Zeb1</tspan><tspan dx="1.88" dy="-2.82" font-size="5.64">WT</tspan></text>
<text x="422.00" y="641.78" font-size="9.4"><tspan font-style="italic">Zeb1</tspan><tspan dx="1.88" dy="-2.82" font-size="5.64">&#916;M</tspan></text>
<text x="523.00" y="611.40" font-size="18.8">k</text>
<line x1="570.50" y1="792.50" x2="570.50" y2="661.72" stroke="#a0a0a0" stroke-width="1.0" />
<line x1="570.00" y1="792.50" x2="656.50" y2="792.50" stroke="#a0a0a0" stroke-width="1.0" />
<line x1="568.00" y1="792.50" x2="570.50" y2="792.50" stroke="#a0a0a0" stroke-width="0.8" />
<text x="0" y="0" font-size="9.3" text-anchor="end" transform="translate(564.90 795.57) scale(0.85 1)">0</text>
<line x1="568.00" y1="759.93" x2="570.50" y2="759.93" stroke="#a0a0a0" stroke-width="0.8" />
<text x="0" y="0" font-size="9.3" text-anchor="end" transform="translate(564.90 763.00) scale(0.85 1)">1000</text>
<line x1="568.00" y1="727.36" x2="570.50" y2="727.36" stroke="#a0a0a0" stroke-width="0.8" />
<text x="0" y="0" font-size="9.3" text-anchor="end" transform="translate(564.90 730.43) scale(0.85 1)">2000</text>
<line x1="568.00" y1="694.79" x2="570.50" y2="694.79" stroke="#a0a0a0" stroke-width="0.8" />
<text x="0" y="0" font-size="9.3" text-anchor="end" transform="translate(564.90 697.86) scale(0.85 1)">3000</text>
<line x1="568.00" y1="662.22" x2="570.50" y2="662.22" stroke="#a0a0a0" stroke-width="0.8" />
<text x="0" y="0" font-size="9.3" text-anchor="end" transform="translate(564.90 665.29) scale(0.85 1)">4000</text>
<rect x="577.20" y="750.48" width="12.70" height="42.02" fill="#9dcfee" stroke="#4f6f86" stroke-width="0.6" />
<rect x="589.90" y="725.73" width="12.60" height="66.77" fill="#e0aa60" stroke="#7a6040" stroke-width="0.6" />
<rect x="617.30" y="710.59" width="12.80" height="81.91" fill="#9dcfee" stroke="#4f6f86" stroke-width="0.6" />
<rect x="630.10" y="740.29" width="12.90" height="52.21" fill="#e0aa60" stroke="#7a6040" stroke-width="0.6" />
<line x1="583.50" y1="750.48" x2="583.50" y2="743.97" stroke="#444" stroke-width="0.7" />
<line x1="580.30" y1="743.97" x2="586.70" y2="743.97" stroke="#444" stroke-width="0.7" />
<line x1="596.20" y1="725.73" x2="596.20" y2="716.61" stroke="#444" stroke-width="0.7" />
<line x1="593.00" y1="716.61" x2="599.40" y2="716.61" stroke="#444" stroke-width="0.7" />
<line x1="623.70" y1="710.59" x2="623.70" y2="706.52" stroke="#444" stroke-width="0.7" />
<line x1="620.50" y1="706.52" x2="626.90" y2="706.52" stroke="#444" stroke-width="0.7" />
<line x1="636.50" y1="740.29" x2="636.50" y2="732.51" stroke="#444" stroke-width="0.7" />
<line x1="633.30" y1="732.51" x2="639.70" y2="732.51" stroke="#444" stroke-width="0.7" />
<circle cx="577.90" cy="744.00" r="1.28" fill="#000"/>
<circle cx="581.70" cy="745.40" r="1.28" fill="#000"/>
<circle cx="585.20" cy="744.80" r="1.28" fill="#000"/>
<circle cx="588.70" cy="745.40" r="1.28" fill="#000"/>
<circle cx="583.40" cy="750.10" r="1.28" fill="#000"/>
<circle cx="583.40" cy="722.60" r="1.28" fill="#000"/>
<circle cx="583.30" cy="771.50" r="1.28" fill="#000"/>
<circle cx="583.30" cy="775.50" r="1.28" fill="#000"/>
<circle cx="593.70" cy="697.30" r="1.28" fill="#000"/>
<circle cx="599.00" cy="696.40" r="1.28" fill="#000"/>
<circle cx="596.60" cy="707.10" r="1.28" fill="#000"/>
<circle cx="596.60" cy="710.70" r="1.28" fill="#000"/>
<circle cx="593.70" cy="737.20" r="1.28" fill="#000"/>
<circle cx="599.00" cy="734.70" r="1.28" fill="#000"/>
<circle cx="596.60" cy="756.10" r="1.28" fill="#000"/>
<circle cx="596.40" cy="763.20" r="1.28" fill="#000"/>
<circle cx="623.50" cy="696.10" r="1.28" fill="#000"/>
<circle cx="623.50" cy="700.40" r="1.28" fill="#000"/>
<circle cx="623.50" cy="703.90" r="1.28" fill="#000"/>
<circle cx="618.10" cy="714.50" r="1.28" fill="#000"/>
<circle cx="623.50" cy="715.60" r="1.28" fill="#000"/>
<circle cx="629.00" cy="715.00" r="1.28" fill="#000"/>
<circle cx="623.50" cy="726.70" r="1.28" fill="#000"/>
<circle cx="636.60" cy="709.00" r="1.28" fill="#000"/>
<circle cx="636.60" cy="713.30" r="1.28" fill="#000"/>
<circle cx="634.00" cy="744.80" r="1.28" fill="#000"/>
<circle cx="639.10" cy="743.60" r="1.28" fill="#000"/>
<circle cx="634.00" cy="754.20" r="1.28" fill="#000"/>
<circle cx="639.10" cy="756.50" r="1.28" fill="#000"/>
<circle cx="634.00" cy="758.00" r="1.28" fill="#000"/>
<path d="M598.70,661.10V658.30H636.80V661.10" stroke="#555" stroke-width="0.7" fill="none" />
<text x="620.60" y="654.20" font-size="8.6" text-anchor="middle">ns</text>
<path d="M582.00,677.20V674.40H623.20V677.20" stroke="#555" stroke-width="0.7" fill="none" />
<text x="602.60" y="675.70" font-size="12.5" text-anchor="middle">***</text>
<path d="M582.30,691.90V689.10H596.60V691.90" stroke="#555" stroke-width="0.7" fill="none" />
<text x="590.50" y="686.70" font-size="8.1" text-anchor="middle">0.065</text>
<path d="M624.10,691.90V689.10H636.80V691.90" stroke="#555" stroke-width="0.7" fill="none" />
<text x="630.40" y="690.40" font-size="12.5" text-anchor="middle">*</text>
<text x="0" y="0" font-size="9.4" text-anchor="middle" transform="translate(590.20 805.00) scale(0.86 1)">LPS</text>
<line x1="590.20" y1="792.50" x2="590.20" y2="794.90" stroke="#888" stroke-width="0.7" />
<text x="0" y="0" font-size="9.4" text-anchor="middle" transform="translate(630.10 805.00) scale(0.86 1)">LPS</text>
<text x="0" y="0" font-size="9.4" text-anchor="middle" transform="translate(630.10 814.50) scale(0.86 1)">LPS</text>
<line x1="630.10" y1="792.50" x2="630.10" y2="794.90" stroke="#888" stroke-width="0.7" />
<text x="538.00" y="725.00" font-size="9.45" text-anchor="middle" transform="rotate(-90 538.00 725.00)">Lactate concentration [&#181;M]</text>
<rect x="587.30" y="615.60" width="9.30" height="9.30" fill="#9dcfee" stroke="#4f6f86" stroke-width="0.6" />
<rect x="587.30" y="631.30" width="9.30" height="9.30" fill="#e0aa60" stroke="#7a6040" stroke-width="0.6" />
<text x="600.80" y="623.63" font-size="9.4"><tspan font-style="italic">Zeb1</tspan><tspan dx="1.88" dy="-2.82" font-size="5.64">WT</tspan></text>
<text x="600.80" y="639.33" font-size="9.4"><tspan font-style="italic">Zeb1</tspan><tspan dx="1.88" dy="-2.82" font-size="5.64">&#916;M</tspan></text>
</svg></body></html>
